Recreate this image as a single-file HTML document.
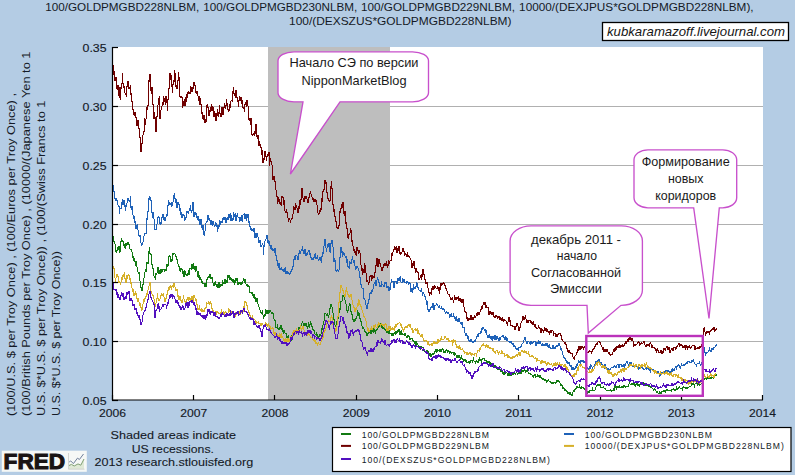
<!DOCTYPE html>
<html><head><meta charset="utf-8"><style>
html,body{margin:0;padding:0;}
body{width:795px;height:475px;overflow:hidden;background:#b4cce4;position:relative;}
svg{position:absolute;left:0;top:0;}
text{font-family:"Liberation Sans",sans-serif;fill:#111;}
.ax{font-size:11.5px;fill:#141a26;stroke:#141a26;stroke-width:0.15px;}
.ti{font-size:11px;fill:#141a26;}
.co{font-size:13px;fill:#1a1a1a;}
.wm{font-size:13px;font-style:italic;fill:#151515;}
.yl{font-size:10.2px;fill:#141a26;}
.lg{font-size:8.6px;fill:#141a26;}
.ft{font-size:11.5px;fill:#141a26;stroke:#141a26;stroke-width:0.1px;}
.fred{font-size:22.5px;font-weight:bold;fill:#1a1414;stroke:#1a1414;stroke-width:1.1px;}
</style></head><body>
<svg width="795" height="475" viewBox="0 0 795 475">
<rect x="112" y="47" width="651" height="353" fill="#fff"/>
<line x1="118" y1="341.5" x2="763" y2="341.5" stroke="#b0b0b0" stroke-width="1"/>
<line x1="118" y1="282.5" x2="763" y2="282.5" stroke="#b0b0b0" stroke-width="1"/>
<line x1="118" y1="224.5" x2="763" y2="224.5" stroke="#b0b0b0" stroke-width="1"/>
<line x1="118" y1="165.5" x2="763" y2="165.5" stroke="#b0b0b0" stroke-width="1"/>
<line x1="118" y1="106.5" x2="763" y2="106.5" stroke="#b0b0b0" stroke-width="1"/>
<rect x="268" y="47" width="122" height="353" fill="#bebebe"/>
<polyline fill="none" stroke="#127a12" stroke-width="1.05" shape-rendering="crispEdges" stroke-linejoin="miter" points="113.03,235.6 113.53,240.1 114.03,241.6 114.53,243.8 115.03,244.2 115.53,247.4 116.03,252.4 116.53,250.7 117.03,250.9 117.53,248.4 118.03,247.4 118.53,248.6 119.03,246.3 119.53,252.8 120.03,251.7 120.53,248.9 121.03,241.2 121.53,239.0 122.03,240.0 122.53,240.5 123.03,241.7 123.53,242.6 124.03,245.5 124.53,244.9 125.03,248.3 125.53,247.7 126.03,243.5 126.53,246.4 127.03,242.7 127.53,244.4 128.03,242.0 128.53,242.5 129.03,244.7 129.53,246.5 130.03,249.2 130.53,249.7 131.03,249.1 131.53,249.4 132.03,252.0 132.53,257.8 133.03,256.3 133.53,259.2 134.03,260.9 134.53,258.1 135.03,261.5 135.53,265.8 136.03,261.2 136.53,264.9 137.03,267.3 137.53,267.8 138.03,272.1 138.53,273.5 139.03,272.7 139.53,278.6 140.03,281.2 140.53,283.9 141.03,287.8 141.53,289.4 142.03,290.5 142.53,285.0 143.03,285.0 143.53,280.7 144.03,278.1 144.53,274.0 145.03,271.8 145.53,270.3 146.03,272.0 146.53,264.2 147.03,262.2 147.53,263.3 148.03,263.4 148.53,259.3 149.03,250.8 149.53,246.6 150.03,253.8 150.53,254.1 151.03,254.6 151.53,260.6 152.03,264.6 152.53,265.9 153.03,268.7 153.53,271.9 154.03,276.2 154.53,276.7 155.03,278.2 155.53,279.5 156.03,273.0 156.53,275.1 157.03,273.0 157.53,270.1 158.03,266.6 158.53,269.7 159.03,274.4 159.53,271.3 160.03,272.5 160.53,274.2 161.03,269.3 161.53,273.2 162.03,271.6 162.53,269.5 163.03,269.6 163.53,269.9 164.03,269.5 164.53,271.8 165.03,269.2 165.53,269.5 166.03,270.9 166.53,268.0 167.03,264.4 167.53,266.2 168.03,265.9 168.53,260.4 169.03,255.7 169.53,255.8 170.03,256.7 170.53,257.5 171.03,262.0 171.53,258.7 172.03,261.1 172.53,254.7 173.03,252.9 173.53,254.0 174.03,253.7 174.53,253.6 175.03,254.1 175.53,255.1 176.03,256.7 176.53,259.2 177.03,259.4 177.53,261.5 178.03,263.8 178.53,264.2 179.03,266.7 179.53,267.6 180.03,271.4 180.53,269.6 181.03,268.3 181.53,268.5 182.03,269.6 182.53,272.1 183.03,270.8 183.53,272.8 184.03,276.8 184.53,269.9 185.03,271.6 185.53,274.4 186.03,275.3 186.53,275.1 187.03,273.8 187.53,274.8 188.03,273.3 188.53,270.5 189.03,274.8 189.53,270.7 190.03,267.8 190.53,268.5 191.03,268.6 191.53,269.1 192.03,263.8 192.53,266.4 193.03,269.3 193.53,264.9 194.03,266.1 194.53,268.9 195.03,269.7 195.53,271.5 196.03,266.3 196.53,269.3 197.03,271.1 197.53,274.5 198.03,277.1 198.53,271.2 199.03,278.0 199.53,275.4 200.03,279.5 200.53,276.6 201.03,279.5 201.53,282.4 202.03,280.9 202.53,281.8 203.03,283.6 203.53,283.3 204.03,283.4 204.53,286.9 205.03,286.9 205.53,282.9 206.03,286.5 206.53,278.8 207.03,280.0 207.53,277.5 208.03,277.2 208.53,277.6 209.03,276.3 209.53,277.7 210.03,274.5 210.53,274.5 211.03,279.1 211.53,277.6 212.03,277.7 212.53,277.4 213.03,283.0 213.53,283.7 214.03,285.6 214.53,281.8 215.03,283.1 215.53,281.5 216.03,284.9 216.53,287.4 217.03,283.6 217.53,287.6 218.03,287.6 218.53,285.8 219.03,282.4 219.53,288.1 220.03,286.8 220.53,284.8 221.03,285.3 221.53,284.7 222.03,285.7 222.53,280.5 223.03,282.6 223.53,283.7 224.03,283.9 224.53,280.9 225.03,279.3 225.53,282.2 226.03,281.1 226.53,280.7 227.03,282.7 227.53,279.7 228.03,275.1 228.53,277.5 229.03,274.9 229.53,279.4 230.03,279.3 230.53,277.6 231.03,278.4 231.53,280.1 232.03,279.0 232.53,281.4 233.03,279.5 233.53,281.5 234.03,283.0 234.53,283.7 235.03,279.9 235.53,282.5 236.03,278.5 236.53,279.7 237.03,278.9 237.53,284.8 238.03,282.3 238.53,284.0 239.03,283.5 239.53,283.3 240.03,281.8 240.53,282.6 241.03,285.2 241.53,282.3 242.03,282.5 242.53,283.3 243.03,281.1 243.53,278.6 244.03,279.2 244.53,282.5 245.03,278.8 245.53,280.6 246.03,284.4 246.53,285.3 247.03,284.6 247.53,286.6 248.03,287.2 248.53,286.1 249.03,286.5 249.53,289.2 250.03,293.2 250.53,292.3 251.03,292.3 251.53,293.3 252.03,292.6 252.53,295.5 253.03,294.8 253.53,297.8 254.03,294.3 254.53,298.7 255.03,298.5 255.53,296.8 256.03,301.4 256.53,301.2 257.03,298.5 257.53,300.8 258.03,304.1 258.53,304.4 259.03,307.3 259.53,308.7 260.03,309.8 260.53,310.2 261.03,312.7 261.53,312.9 262.03,313.4 262.53,310.5 263.03,315.2 263.53,317.5 264.03,316.4 264.53,314.3 265.03,316.3 265.53,309.9 266.03,310.8 266.53,314.2 267.03,309.7 267.53,311.3 268.03,313.5 268.53,310.8 269.03,311.4 269.53,312.3 270.03,310.0 270.53,311.0 271.03,312.1 271.53,313.4 272.03,312.6 272.53,313.4 273.03,313.6 273.53,315.8 274.03,319.3 274.53,320.0 275.03,320.0 275.53,321.2 276.03,327.6 276.53,327.6 277.03,327.6 277.53,324.0 278.03,328.5 278.53,328.9 279.03,330.2 279.53,328.3 280.03,326.9 280.53,327.7 281.03,325.2 281.53,329.2 282.03,329.6 282.53,328.9 283.03,331.9 283.53,333.7 284.03,330.4 284.53,331.2 285.03,333.2 285.53,333.9 286.03,333.9 286.53,333.7 287.03,338.1 287.53,338.1 288.03,335.9 288.53,335.7 289.03,340.1 289.53,340.5 290.03,342.0 290.53,341.4 291.03,339.7 291.53,340.0 292.03,335.2 292.53,334.3 293.03,333.5 293.53,333.1 294.03,331.3 294.53,331.5 295.03,332.0 295.53,331.8 296.03,331.8 296.53,331.0 297.03,329.8 297.53,330.8 298.03,329.8 298.53,328.1 299.03,327.8 299.53,328.1 300.03,327.1 300.53,326.5 301.03,325.3 301.53,324.6 302.03,323.2 302.53,320.8 303.03,323.3 303.53,325.0 304.03,324.8 304.53,324.2 305.03,325.4 305.53,324.4 306.03,323.5 306.53,326.6 307.03,326.5 307.53,329.2 308.03,326.5 308.53,323.3 309.03,324.3 309.53,327.6 310.03,325.0 310.53,322.6 311.03,323.6 311.53,326.0 312.03,326.8 312.53,327.0 313.03,329.7 313.53,330.0 314.03,329.8 314.53,331.4 315.03,333.9 315.53,334.3 316.03,335.3 316.53,333.5 317.03,334.7 317.53,336.5 318.03,335.9 318.53,337.9 319.03,336.8 319.53,336.2 320.03,333.8 320.53,336.1 321.03,333.7 321.53,330.0 322.03,328.5 322.53,330.4 323.03,324.8 323.53,323.3 324.03,321.2 324.53,317.4 325.03,312.9 325.53,313.9 326.03,314.0 326.53,314.8 327.03,314.0 327.53,313.9 328.03,316.2 328.53,317.1 329.03,314.9 329.53,311.6 330.03,308.1 330.53,306.4 331.03,303.7 331.53,305.1 332.03,307.4 332.53,307.8 333.03,313.3 333.53,315.6 334.03,319.8 334.53,323.4 335.03,325.3 335.53,326.0 336.03,325.2 336.53,321.4 337.03,323.7 337.53,320.7 338.03,319.3 338.53,314.5 339.03,313.0 339.53,308.6 340.03,309.9 340.53,308.3 341.03,301.5 341.53,301.1 342.03,301.0 342.53,296.9 343.03,295.5 343.53,296.1 344.03,297.1 344.53,297.0 345.03,300.2 345.53,302.0 346.03,304.3 346.53,307.0 347.03,310.8 347.53,313.0 348.03,310.3 348.53,308.7 349.03,305.9 349.53,303.7 350.03,304.6 350.53,308.0 351.03,311.9 351.53,311.9 352.03,314.5 352.53,317.8 353.03,319.4 353.53,320.8 354.03,322.1 354.53,320.2 355.03,321.1 355.53,320.0 356.03,318.3 356.53,316.4 357.03,315.9 357.53,311.2 358.03,312.2 358.53,314.8 359.03,313.6 359.53,316.8 360.03,319.0 360.53,318.8 361.03,321.8 361.53,323.5 362.03,326.1 362.53,328.0 363.03,328.7 363.53,328.0 364.03,329.2 364.53,329.9 365.03,331.5 365.53,332.6 366.03,332.7 366.53,333.1 367.03,335.7 367.53,334.6 368.03,333.1 368.53,333.3 369.03,332.0 369.53,332.3 370.03,332.7 370.53,331.3 371.03,334.3 371.53,331.2 372.03,332.2 372.53,331.1 373.03,332.2 373.53,327.8 374.03,329.0 374.53,330.6 375.03,331.4 375.53,333.4 376.03,330.5 376.53,330.7 377.03,329.5 377.53,329.0 378.03,327.8 378.53,326.3 379.03,326.7 379.53,324.3 380.03,326.7 380.53,323.9 381.03,324.8 381.53,327.9 382.03,325.9 382.53,326.4 383.03,328.6 383.53,328.0 384.03,327.3 384.53,328.9 385.03,329.9 385.53,330.6 386.03,329.0 386.53,332.3 387.03,333.1 387.53,331.4 388.03,331.8 388.53,331.4 389.03,334.1 389.53,332.3 390.03,334.1 390.53,333.4 391.03,333.4 391.53,335.2 392.03,336.0 392.53,334.2 393.03,332.7 393.53,334.1 394.03,332.9 394.53,332.9 395.03,334.3 395.53,333.7 396.03,331.2 396.53,334.1 397.03,331.4 397.53,331.9 398.03,330.4 398.53,331.2 399.03,329.4 399.53,333.9 400.03,334.5 400.53,331.6 401.03,330.8 401.53,330.8 402.03,334.7 402.53,333.7 403.03,334.2 403.53,334.3 404.03,334.8 404.53,333.9 405.03,335.5 405.53,334.2 406.03,335.9 406.53,337.0 407.03,337.3 407.53,336.5 408.03,335.5 408.53,336.6 409.03,336.0 409.53,338.6 410.03,339.7 410.53,338.9 411.03,338.5 411.53,338.4 412.03,338.4 412.53,339.4 413.03,340.6 413.53,341.4 414.03,341.9 414.53,344.1 415.03,341.4 415.53,342.0 416.03,345.8 416.53,341.5 417.03,342.8 417.53,344.4 418.03,345.2 418.53,346.2 419.03,346.2 419.53,347.1 420.03,347.2 420.53,348.3 421.03,345.8 421.53,346.7 422.03,348.1 422.53,347.5 423.03,347.7 423.53,349.8 424.03,349.1 424.53,350.7 425.03,351.4 425.53,351.3 426.03,351.8 426.53,351.4 427.03,350.2 427.53,351.7 428.03,352.9 428.53,352.3 429.03,352.9 429.53,354.2 430.03,353.0 430.53,354.6 431.03,356.5 431.53,354.2 432.03,354.1 432.53,353.5 433.03,355.0 433.53,353.7 434.03,353.8 434.53,351.8 435.03,351.9 435.53,351.6 436.03,349.3 436.53,352.2 437.03,351.9 437.53,348.8 438.03,351.0 438.53,350.5 439.03,351.0 439.53,351.0 440.03,348.9 440.53,349.9 441.03,352.1 441.53,350.2 442.03,349.3 442.53,348.7 443.03,348.8 443.53,350.5 444.03,352.4 444.53,351.4 445.03,351.0 445.53,353.1 446.03,350.4 446.53,349.8 447.03,351.4 447.53,352.0 448.03,350.6 448.53,350.5 449.03,352.3 449.53,352.8 450.03,351.1 450.53,352.0 451.03,351.8 451.53,352.9 452.03,352.5 452.53,352.5 453.03,352.5 453.53,354.3 454.03,355.3 454.53,353.9 455.03,355.2 455.53,354.0 456.03,354.9 456.53,356.1 457.03,357.4 457.53,355.9 458.03,356.2 458.53,356.8 459.03,355.4 459.53,357.0 460.03,356.8 460.53,358.2 461.03,357.1 461.53,356.3 462.03,358.5 462.53,359.4 463.03,359.1 463.53,360.7 464.03,360.1 464.53,360.0 465.03,361.3 465.53,359.7 466.03,360.6 466.53,361.7 467.03,363.1 467.53,362.6 468.03,362.6 468.53,361.4 469.03,361.8 469.53,363.0 470.03,360.6 470.53,363.0 471.03,360.4 471.53,360.6 472.03,360.8 472.53,361.7 473.03,359.6 473.53,358.3 474.03,360.8 474.53,361.4 475.03,361.4 475.53,363.4 476.03,361.4 476.53,361.0 477.03,361.6 477.53,361.2 478.03,362.4 478.53,359.7 479.03,360.0 479.53,357.0 480.03,360.5 480.53,359.7 481.03,360.6 481.53,361.8 482.03,359.5 482.53,358.5 483.03,358.2 483.53,358.1 484.03,358.6 484.53,360.3 485.03,360.3 485.53,360.5 486.03,360.6 486.53,362.0 487.03,362.1 487.53,361.8 488.03,362.8 488.53,362.4 489.03,361.6 489.53,364.3 490.03,364.2 490.53,363.0 491.03,365.0 491.53,365.0 492.03,363.4 492.53,366.4 493.03,366.0 493.53,366.8 494.03,366.5 494.53,366.4 495.03,365.3 495.53,367.7 496.03,367.6 496.53,367.5 497.03,368.4 497.53,368.6 498.03,369.4 498.53,368.9 499.03,369.4 499.53,367.8 500.03,369.3 500.53,370.9 501.03,372.1 501.53,371.1 502.03,371.3 502.53,373.2 503.03,372.1 503.53,373.1 504.03,374.4 504.53,373.1 505.03,373.9 505.53,372.3 506.03,372.8 506.53,372.7 507.03,372.9 507.53,374.1 508.03,375.8 508.53,373.6 509.03,373.6 509.53,374.8 510.03,373.9 510.53,375.0 511.03,375.3 511.53,374.6 512.03,375.2 512.53,373.5 513.03,375.2 513.53,373.1 514.03,373.2 514.53,373.1 515.03,372.9 515.53,373.7 516.03,373.0 516.53,372.4 517.03,373.2 517.53,374.2 518.03,373.0 518.53,373.1 519.03,373.9 519.53,372.9 520.03,371.0 520.53,373.8 521.03,373.8 521.53,369.8 522.03,370.5 522.53,371.0 523.03,371.7 523.53,371.5 524.03,370.6 524.53,369.7 525.03,370.6 525.53,371.9 526.03,370.5 526.53,370.5 527.03,371.7 527.53,370.5 528.03,372.0 528.53,372.5 529.03,373.6 529.53,373.1 530.03,373.1 530.53,373.8 531.03,374.5 531.53,374.2 532.03,374.9 532.53,375.8 533.03,376.5 533.53,377.2 534.03,375.4 534.53,375.4 535.03,373.8 535.53,377.4 536.03,376.0 536.53,376.4 537.03,377.1 537.53,375.7 538.03,376.9 538.53,376.8 539.03,375.2 539.53,376.7 540.03,377.8 540.53,375.5 541.03,377.7 541.53,377.8 542.03,378.4 542.53,378.7 543.03,379.8 543.53,379.0 544.03,380.0 544.53,379.4 545.03,380.5 545.53,379.7 546.03,380.4 546.53,382.2 547.03,381.4 547.53,380.8 548.03,379.9 548.53,380.0 549.03,380.8 549.53,381.7 550.03,381.7 550.53,382.1 551.03,382.0 551.53,383.3 552.03,382.5 552.53,382.4 553.03,383.4 553.53,383.0 554.03,382.6 554.53,382.3 555.03,382.5 555.53,383.2 556.03,382.8 556.53,381.2 557.03,381.9 557.53,381.6 558.03,380.3 558.53,381.3 559.03,381.4 559.53,381.9 560.03,383.4 560.53,384.7 561.03,383.9 561.53,385.1 562.03,384.9 562.53,387.8 563.03,386.8 563.53,388.4 564.03,387.9 564.53,389.4 565.03,391.2 565.53,388.7 566.03,390.3 566.53,391.5 567.03,391.5 567.53,391.4 568.03,393.6 568.53,392.9 569.03,391.8 569.53,393.6 570.03,392.5 570.53,394.4 571.03,393.9 571.53,394.6 572.03,395.7 572.53,394.4 573.03,392.2 573.53,390.8 574.03,391.7 574.53,390.8 575.03,388.7 575.53,389.2 576.03,388.8 576.53,388.5 577.03,386.1 577.53,386.8 578.03,387.5 578.53,387.6 579.03,387.8 579.53,385.5 580.03,387.0 580.53,387.5 581.03,389.2 581.53,386.9 582.03,386.9 582.53,387.2 583.03,388.3 583.53,387.9 584.03,389.4 584.53,388.7 585.03,389.7 585.53,389.9 586.03,390.9 586.53,391.1 587.03,391.0 587.53,392.8 588.03,392.3 588.53,391.4 589.03,391.6 589.53,392.0 590.03,390.5 590.53,390.6 591.03,390.9 591.53,390.7 592.03,389.9 592.53,388.4 593.03,390.8 593.53,390.9 594.03,391.0 594.53,390.6 595.03,389.9 595.53,388.5 596.03,387.0 596.53,386.2 597.03,385.7 597.53,385.0 598.03,383.9 598.53,384.9 599.03,383.7 599.53,384.9 600.03,384.5 600.53,386.0 601.03,387.6 601.53,387.6 602.03,387.0 602.53,387.7 603.03,388.1 603.53,387.0 604.03,387.8 604.53,388.7 605.03,388.6 605.53,389.2 606.03,390.0 606.53,390.4 607.03,390.7 607.53,390.8 608.03,390.4 608.53,390.7 609.03,390.8 609.53,390.9 610.03,391.0 610.53,389.9 611.03,390.7 611.53,391.0 612.03,390.4 612.53,390.4 613.03,390.4 613.53,389.5 614.03,390.6 614.53,387.0 615.03,387.8 615.53,386.6 616.03,388.2 616.53,389.6 617.03,385.9 617.53,387.0 618.03,387.6 618.53,387.1 619.03,387.6 619.53,385.6 620.03,387.5 620.53,387.6 621.03,387.3 621.53,386.8 622.03,387.6 622.53,386.9 623.03,387.3 623.53,386.9 624.03,385.5 624.53,386.8 625.03,387.3 625.53,387.6 626.03,386.2 626.53,386.3 627.03,386.7 627.53,386.2 628.03,386.4 628.53,386.5 629.03,383.7 629.53,381.8 630.03,383.8 630.53,384.8 631.03,384.6 631.53,384.6 632.03,383.6 632.53,383.4 633.03,384.7 633.53,383.7 634.03,382.9 634.53,383.5 635.03,386.3 635.53,386.4 636.03,384.4 636.53,384.0 637.03,384.7 637.53,384.0 638.03,385.5 638.53,384.7 639.03,383.8 639.53,385.5 640.03,384.3 640.53,384.7 641.03,384.6 641.53,384.4 642.03,384.8 642.53,384.1 643.03,383.2 643.53,382.8 644.03,383.6 644.53,384.2 645.03,385.0 645.53,385.3 646.03,385.9 646.53,385.8 647.03,385.1 647.53,385.2 648.03,384.2 648.53,385.6 649.03,386.5 649.53,386.8 650.03,386.5 650.53,386.5 651.03,387.7 651.53,387.5 652.03,388.3 652.53,388.7 653.03,388.8 653.53,389.8 654.03,388.8 654.53,389.0 655.03,388.9 655.53,389.1 656.03,391.2 656.53,392.1 657.03,391.5 657.53,392.2 658.03,393.1 658.53,393.2 659.03,393.4 659.53,391.8 660.03,391.9 660.53,392.6 661.03,393.4 661.53,392.4 662.03,391.3 662.53,391.3 663.03,390.8 663.53,390.4 664.03,391.8 664.53,390.4 665.03,390.3 665.53,391.7 666.03,391.0 666.53,390.3 667.03,389.5 667.53,390.1 668.03,391.0 668.53,390.5 669.03,390.9 669.53,390.3 670.03,390.6 670.53,390.2 671.03,390.7 671.53,391.4 672.03,389.3 672.53,389.7 673.03,389.8 673.53,389.0 674.03,388.9 674.53,389.5 675.03,390.5 675.53,389.5 676.03,389.0 676.53,387.5 677.03,389.7 677.53,388.8 678.03,388.6 678.53,387.7 679.03,388.1 679.53,387.3 680.03,387.9 680.53,388.2 681.03,388.1 681.53,388.4 682.03,387.7 682.53,389.3 683.03,388.2 683.53,387.1 684.03,388.1 684.53,387.9 685.03,387.7 685.53,388.1 686.03,388.5 686.53,387.3 687.03,387.6 687.53,388.6 688.03,388.1 688.53,387.1 689.03,387.0 689.53,386.5 690.03,386.3 690.53,386.6 691.03,385.9 691.53,383.8 692.03,385.0 692.53,384.3 693.03,385.2 693.53,384.2 694.03,384.6 694.53,386.3 695.03,384.1 695.53,383.6 696.03,383.3 696.53,382.6 697.03,383.0 697.53,384.9 698.03,384.6 698.53,383.7 699.03,383.7 699.53,385.2 700.03,384.3 700.53,384.3 701.03,384.1 701.53,383.9 702.03,383.5 702.53,382.3 703.03,383.0 703.53,383.9 704.03,379.6 704.53,379.7 705.03,378.4 705.53,378.9 706.03,379.0 706.53,379.0 707.03,378.7 707.53,378.0 708.03,378.2 708.53,377.2 709.03,379.1 709.53,378.7 710.03,377.0 710.53,378.6 711.03,378.3 711.53,375.7 712.03,378.2 712.53,377.6 713.03,378.3 713.53,375.5 714.03,376.2 714.53,376.1 715.03,375.6 715.53,375.3 716.03,375.9 716.53,373.6"/>
<polyline fill="none" stroke="#1f62b8" stroke-width="1.05" shape-rendering="crispEdges" stroke-linejoin="miter" points="113.03,184.9 113.53,186.7 114.03,191.7 114.53,194.6 115.03,198.5 115.53,200.1 116.03,200.7 116.53,199.3 117.03,200.0 117.53,204.2 118.03,205.0 118.53,205.6 119.03,206.6 119.53,213.7 120.03,208.5 120.53,208.6 121.03,208.3 121.53,203.7 122.03,204.8 122.53,199.0 123.03,204.7 123.53,204.4 124.03,200.4 124.53,206.5 125.03,204.7 125.53,211.0 126.03,206.1 126.53,204.1 127.03,202.9 127.53,199.0 128.03,199.3 128.53,197.9 129.03,201.3 129.53,200.6 130.03,202.2 130.53,196.5 131.03,207.4 131.53,208.4 132.03,205.6 132.53,211.6 133.03,215.2 133.53,219.0 134.03,215.8 134.53,223.0 135.03,221.4 135.53,228.5 136.03,224.9 136.53,227.1 137.03,225.8 137.53,224.5 138.03,230.4 138.53,232.3 139.03,235.8 139.53,236.3 140.03,235.4 140.53,237.0 141.03,243.4 141.53,245.4 142.03,243.0 142.53,243.9 143.03,241.6 143.53,237.8 144.03,236.0 144.53,233.5 145.03,233.2 145.53,233.6 146.03,233.4 146.53,227.0 147.03,218.2 147.53,218.9 148.03,211.1 148.53,209.0 149.03,197.9 149.53,197.2 150.03,199.9 150.53,197.5 151.03,200.6 151.53,207.8 152.03,212.9 152.53,217.7 153.03,213.7 153.53,213.0 154.03,219.2 154.53,226.0 155.03,229.6 155.53,229.5 156.03,230.0 156.53,227.4 157.03,223.8 157.53,218.6 158.03,217.6 158.53,217.1 159.03,217.6 159.53,217.4 160.03,224.3 160.53,224.4 161.03,222.2 161.53,222.9 162.03,217.5 162.53,216.0 163.03,214.0 163.53,216.7 164.03,220.3 164.53,216.9 165.03,221.0 165.53,219.7 166.03,216.7 166.53,214.8 167.03,215.3 167.53,208.4 168.03,205.2 168.53,200.0 169.03,202.6 169.53,205.0 170.03,202.8 170.53,204.1 171.03,204.2 171.53,206.7 172.03,201.8 172.53,206.0 173.03,201.9 173.53,197.3 174.03,195.5 174.53,193.2 175.03,198.9 175.53,202.6 176.03,198.6 176.53,205.2 177.03,207.5 177.53,205.2 178.03,202.5 178.53,203.8 179.03,204.4 179.53,209.2 180.03,210.5 180.53,208.5 181.03,214.7 181.53,212.0 182.03,218.2 182.53,214.7 183.03,215.3 183.53,214.9 184.03,215.4 184.53,220.0 185.03,219.7 185.53,218.8 186.03,217.6 186.53,212.0 187.03,213.0 187.53,212.5 188.03,210.8 188.53,213.7 189.03,210.7 189.53,209.8 190.03,208.3 190.53,205.0 191.03,210.8 191.53,213.4 192.03,210.6 192.53,206.6 193.03,202.4 193.53,211.8 194.03,216.7 194.53,213.1 195.03,212.2 195.53,214.0 196.03,215.3 196.53,213.0 197.03,217.9 197.53,219.8 198.03,216.0 198.53,219.7 199.03,219.1 199.53,222.4 200.03,225.1 200.53,222.1 201.03,219.4 201.53,227.5 202.03,227.2 202.53,230.2 203.03,224.6 203.53,230.1 204.03,234.4 204.53,235.8 205.03,230.9 205.53,227.3 206.03,222.5 206.53,221.4 207.03,221.8 207.53,219.6 208.03,215.5 208.53,219.9 209.03,217.8 209.53,220.6 210.03,220.7 210.53,224.5 211.03,224.4 211.53,220.5 212.03,221.9 212.53,225.8 213.03,221.0 213.53,222.6 214.03,224.9 214.53,226.7 215.03,226.2 215.53,222.7 216.03,223.1 216.53,226.4 217.03,227.1 217.53,232.2 218.03,224.7 218.53,227.8 219.03,227.2 219.53,221.0 220.03,221.6 220.53,223.9 221.03,222.6 221.53,222.1 222.03,222.5 222.53,218.4 223.03,219.8 223.53,217.3 224.03,217.1 224.53,219.7 225.03,217.5 225.53,219.2 226.03,222.8 226.53,219.4 227.03,218.0 227.53,219.6 228.03,216.9 228.53,219.8 229.03,214.1 229.53,217.7 230.03,215.6 230.53,214.5 231.03,220.7 231.53,215.4 232.03,220.9 232.53,218.6 233.03,219.3 233.53,212.4 234.03,215.8 234.53,217.2 235.03,214.0 235.53,213.7 236.03,220.6 236.53,216.6 237.03,214.7 237.53,214.2 238.03,217.2 238.53,217.9 239.03,218.1 239.53,222.1 240.03,217.5 240.53,218.5 241.03,221.0 241.53,215.2 242.03,219.1 242.53,221.9 243.03,214.8 243.53,214.3 244.03,214.6 244.53,212.9 245.03,218.6 245.53,213.9 246.03,218.4 246.53,221.3 247.03,213.7 247.53,215.9 248.03,214.3 248.53,222.2 249.03,221.7 249.53,224.2 250.03,226.4 250.53,229.1 251.03,228.5 251.53,230.1 252.03,229.4 252.53,231.2 253.03,229.0 253.53,231.8 254.03,228.1 254.53,231.1 255.03,237.8 255.53,235.3 256.03,232.6 256.53,236.3 257.03,235.1 257.53,234.1 258.03,236.8 258.53,241.5 259.03,242.4 259.53,242.2 260.03,240.4 260.53,240.7 261.03,246.9 261.53,246.5 262.03,244.6 262.53,242.7 263.03,245.0 263.53,254.8 264.03,246.1 264.53,243.6 265.03,240.9 265.53,239.6 266.03,238.7 266.53,235.7 267.03,235.4 267.53,243.0 268.03,240.2 268.53,244.4 269.03,240.8 269.53,243.8 270.03,246.2 270.53,249.0 271.03,245.4 271.53,249.0 272.03,249.9 272.53,248.2 273.03,251.1 273.53,249.5 274.03,250.2 274.53,252.9 275.03,248.5 275.53,254.7 276.03,255.7 276.53,256.6 277.03,260.5 277.53,264.6 278.03,263.8 278.53,267.8 279.03,264.5 279.53,263.9 280.03,269.7 280.53,268.8 281.03,270.0 281.53,267.0 282.03,269.9 282.53,269.7 283.03,270.7 283.53,269.9 284.03,272.3 284.53,269.4 285.03,268.5 285.53,267.9 286.03,273.6 286.53,271.7 287.03,271.4 287.53,272.3 288.03,274.0 288.53,273.0 289.03,274.3 289.53,273.7 290.03,273.5 290.53,272.0 291.03,272.2 291.53,270.1 292.03,269.6 292.53,268.4 293.03,266.6 293.53,259.6 294.03,259.9 294.53,258.2 295.03,260.4 295.53,255.2 296.03,255.1 296.53,255.7 297.03,256.3 297.53,259.6 298.03,257.7 298.53,259.9 299.03,253.3 299.53,249.6 300.03,253.7 300.53,251.7 301.03,251.2 301.53,249.9 302.03,250.0 302.53,246.3 303.03,251.3 303.53,249.9 304.03,253.6 304.53,253.2 305.03,248.9 305.53,249.9 306.03,255.5 306.53,254.3 307.03,253.5 307.53,253.9 308.03,251.9 308.53,250.7 309.03,251.2 309.53,250.9 310.03,254.9 310.53,253.3 311.03,257.7 311.53,259.2 312.03,260.1 312.53,259.7 313.03,258.5 313.53,259.0 314.03,257.4 314.53,255.0 315.03,255.1 315.53,253.1 316.03,258.8 316.53,258.5 317.03,257.4 317.53,255.0 318.03,259.3 318.53,259.9 319.03,259.0 319.53,259.1 320.03,257.3 320.53,261.4 321.03,259.1 321.53,262.5 322.03,256.0 322.53,252.8 323.03,253.6 323.53,248.9 324.03,246.1 324.53,242.3 325.03,239.0 325.53,245.9 326.03,248.1 326.53,252.1 327.03,247.9 327.53,246.8 328.03,243.8 328.53,246.5 329.03,243.0 329.53,248.3 330.03,252.0 330.53,252.1 331.03,242.9 331.53,242.2 332.03,240.0 332.53,243.8 333.03,247.0 333.53,256.5 334.03,261.5 334.53,259.3 335.03,260.1 335.53,262.7 336.03,270.8 336.53,271.5 337.03,270.5 337.53,270.0 338.03,271.0 338.53,271.4 339.03,270.1 339.53,262.8 340.03,257.6 340.53,254.0 341.03,247.5 341.53,252.8 342.03,251.5 342.53,257.3 343.03,253.1 343.53,252.5 344.03,255.3 344.53,253.2 345.03,256.4 345.53,256.9 346.03,255.7 346.53,260.4 347.03,263.0 347.53,259.1 348.03,267.1 348.53,267.2 349.03,268.2 349.53,262.0 350.03,262.3 350.53,262.3 351.03,264.4 351.53,259.3 352.03,258.9 352.53,256.0 353.03,260.2 353.53,263.0 354.03,260.3 354.53,262.8 355.03,266.1 355.53,269.6 356.03,269.1 356.53,267.7 357.03,266.4 357.53,266.9 358.03,268.0 358.53,270.2 359.03,270.8 359.53,276.9 360.03,277.8 360.53,277.7 361.03,284.7 361.53,286.9 362.03,287.8 362.53,288.6 363.03,288.8 363.53,292.3 364.03,298.3 364.53,298.6 365.03,299.9 365.53,303.4 366.03,305.1 366.53,307.1 367.03,308.5 367.53,308.3 368.03,303.2 368.53,303.7 369.03,299.2 369.53,297.7 370.03,293.5 370.53,292.8 371.03,293.3 371.53,291.1 372.03,292.0 372.53,291.2 373.03,288.7 373.53,285.9 374.03,284.0 374.53,283.0 375.03,282.4 375.53,281.5 376.03,285.9 376.53,281.3 377.03,280.1 377.53,278.3 378.03,279.3 378.53,281.3 379.03,283.4 379.53,282.1 380.03,287.1 380.53,284.7 381.03,287.1 381.53,281.1 382.03,283.9 382.53,284.7 383.03,284.9 383.53,286.0 384.03,285.9 384.53,286.0 385.03,282.5 385.53,284.2 386.03,281.9 386.53,287.0 387.03,287.7 387.53,287.1 388.03,286.1 388.53,286.5 389.03,290.9 389.53,290.9 390.03,287.2 390.53,288.3 391.03,282.9 391.53,280.6 392.03,282.2 392.53,281.3 393.03,281.4 393.53,282.5 394.03,287.7 394.53,281.7 395.03,281.5 395.53,281.6 396.03,280.8 396.53,282.2 397.03,283.8 397.53,278.2 398.03,279.4 398.53,278.9 399.03,280.6 399.53,278.0 400.03,277.6 400.53,276.8 401.03,282.0 401.53,282.7 402.03,282.8 402.53,278.5 403.03,281.3 403.53,280.9 404.03,279.5 404.53,279.9 405.03,282.7 405.53,282.9 406.03,282.1 406.53,283.0 407.03,281.2 407.53,282.2 408.03,282.5 408.53,283.6 409.03,282.8 409.53,282.7 410.03,283.7 410.53,284.8 411.03,291.7 411.53,289.4 412.03,288.5 412.53,291.3 413.03,290.1 413.53,284.3 414.03,286.9 414.53,287.4 415.03,289.1 415.53,288.2 416.03,286.7 416.53,282.6 417.03,283.0 417.53,286.0 418.03,287.9 418.53,287.4 419.03,290.0 419.53,290.6 420.03,291.0 420.53,291.1 421.03,290.2 421.53,288.3 422.03,292.3 422.53,293.9 423.03,291.8 423.53,293.9 424.03,293.9 424.53,295.3 425.03,296.9 425.53,296.6 426.03,300.3 426.53,302.9 427.03,301.5 427.53,307.0 428.03,309.5 428.53,310.4 429.03,311.6 429.53,310.7 430.03,309.6 430.53,308.5 431.03,307.0 431.53,307.3 432.03,306.4 432.53,307.0 433.03,302.7 433.53,308.5 434.03,309.4 434.53,305.7 435.03,305.9 435.53,305.4 436.03,304.8 436.53,304.2 437.03,304.8 437.53,304.4 438.03,306.4 438.53,307.0 439.03,308.2 439.53,306.8 440.03,307.9 440.53,308.1 441.03,309.0 441.53,306.6 442.03,308.4 442.53,309.9 443.03,310.0 443.53,309.0 444.03,309.0 444.53,309.8 445.03,311.8 445.53,313.9 446.03,312.1 446.53,311.4 447.03,313.2 447.53,313.7 448.03,312.5 448.53,312.9 449.03,314.4 449.53,316.2 450.03,314.2 450.53,314.3 451.03,316.5 451.53,314.4 452.03,316.0 452.53,316.6 453.03,316.1 453.53,314.8 454.03,316.6 454.53,317.1 455.03,318.7 455.53,317.8 456.03,321.0 456.53,318.1 457.03,319.5 457.53,320.1 458.03,321.6 458.53,319.6 459.03,320.9 459.53,319.6 460.03,321.8 460.53,324.2 461.03,322.2 461.53,323.5 462.03,322.4 462.53,325.4 463.03,327.7 463.53,327.7 464.03,327.3 464.53,330.5 465.03,333.3 465.53,335.0 466.03,336.2 466.53,334.2 467.03,335.6 467.53,338.9 468.03,336.6 468.53,339.5 469.03,341.4 469.53,340.8 470.03,341.5 470.53,340.3 471.03,339.3 471.53,340.9 472.03,341.5 472.53,342.2 473.03,342.8 473.53,341.5 474.03,341.3 474.53,341.1 475.03,339.7 475.53,341.0 476.03,338.7 476.53,336.9 477.03,335.9 477.53,334.9 478.03,337.0 478.53,335.6 479.03,333.5 479.53,333.5 480.03,333.3 480.53,332.0 481.03,333.0 481.53,329.4 482.03,330.1 482.53,329.0 483.03,327.0 483.53,328.7 484.03,329.2 484.53,330.4 485.03,329.7 485.53,331.5 486.03,330.2 486.53,331.6 487.03,335.3 487.53,337.3 488.03,336.8 488.53,336.2 489.03,338.4 489.53,335.1 490.03,336.4 490.53,338.7 491.03,339.3 491.53,337.3 492.03,335.8 492.53,339.7 493.03,338.8 493.53,337.4 494.03,338.2 494.53,339.5 495.03,335.4 495.53,339.2 496.03,339.5 496.53,336.0 497.03,338.9 497.53,336.3 498.03,339.4 498.53,339.1 499.03,341.3 499.53,337.9 500.03,337.8 500.53,338.9 501.03,336.8 501.53,336.1 502.03,336.1 502.53,336.3 503.03,335.0 503.53,337.1 504.03,337.9 504.53,337.7 505.03,339.9 505.53,338.1 506.03,340.1 506.53,338.8 507.03,340.7 507.53,338.3 508.03,340.9 508.53,341.6 509.03,341.8 509.53,341.9 510.03,342.5 510.53,342.5 511.03,341.0 511.53,342.8 512.03,343.5 512.53,344.0 513.03,343.7 513.53,345.0 514.03,346.6 514.53,346.0 515.03,345.9 515.53,348.2 516.03,348.5 516.53,348.8 517.03,349.4 517.53,348.1 518.03,348.3 518.53,349.4 519.03,347.5 519.53,347.3 520.03,347.6 520.53,347.4 521.03,346.3 521.53,346.5 522.03,344.0 522.53,343.6 523.03,342.8 523.53,341.1 524.03,339.8 524.53,337.7 525.03,337.7 525.53,339.1 526.03,341.3 526.53,343.5 527.03,341.1 527.53,342.6 528.03,341.4 528.53,341.3 529.03,341.9 529.53,343.1 530.03,342.8 530.53,343.9 531.03,341.5 531.53,343.3 532.03,343.7 532.53,342.8 533.03,343.1 533.53,341.9 534.03,341.0 534.53,341.6 535.03,341.5 535.53,345.7 536.03,342.5 536.53,344.4 537.03,343.1 537.53,342.9 538.03,343.4 538.53,341.7 539.03,343.4 539.53,343.2 540.03,341.1 540.53,343.4 541.03,344.0 541.53,344.2 542.03,345.8 542.53,344.0 543.03,344.9 543.53,345.5 544.03,343.9 544.53,346.3 545.03,343.8 545.53,343.7 546.03,346.0 546.53,344.8 547.03,345.9 547.53,344.5 548.03,346.5 548.53,345.7 549.03,347.4 549.53,345.8 550.03,348.0 550.53,347.8 551.03,348.3 551.53,348.4 552.03,348.6 552.53,347.0 553.03,345.2 553.53,347.9 554.03,347.3 554.53,347.7 555.03,348.8 555.53,346.2 556.03,346.6 556.53,346.4 557.03,345.5 557.53,346.5 558.03,345.8 558.53,344.4 559.03,343.5 559.53,345.3 560.03,345.9 560.53,348.6 561.03,350.2 561.53,349.1 562.03,351.0 562.53,353.2 563.03,354.9 563.53,356.4 564.03,357.6 564.53,358.8 565.03,358.4 565.53,359.3 566.03,361.3 566.53,360.9 567.03,362.9 567.53,361.2 568.03,363.6 568.53,363.8 569.03,362.6 569.53,365.7 570.03,366.0 570.53,366.2 571.03,365.6 571.53,366.9 572.03,369.8 572.53,369.0 573.03,367.2 573.53,368.9 574.03,368.4 574.53,368.9 575.03,368.4 575.53,367.0 576.03,365.9 576.53,366.7 577.03,363.7 577.53,365.6 578.03,362.7 578.53,360.8 579.03,361.5 579.53,362.0 580.03,361.5 580.53,362.7 581.03,360.2 581.53,360.4 582.03,362.3 582.53,361.1 583.03,360.1 583.53,362.0 584.03,363.0 584.53,362.6 585.03,361.6 585.53,363.6 586.03,365.6 586.53,367.1 587.03,368.9 587.53,367.8 588.03,367.9 588.53,368.8 589.03,369.5 589.53,367.2 590.03,368.5 590.53,364.5 591.03,366.7 591.53,366.0 592.03,367.3 592.53,368.0 593.03,366.6 593.53,366.6 594.03,366.3 594.53,366.0 595.03,363.9 595.53,362.8 596.03,361.2 596.53,365.0 597.03,362.6 597.53,361.7 598.03,359.8 598.53,361.4 599.03,359.6 599.53,360.6 600.03,361.9 600.53,362.7 601.03,364.7 601.53,363.6 602.03,364.7 602.53,365.3 603.03,365.1 603.53,366.4 604.03,366.7 604.53,368.5 605.03,364.5 605.53,366.5 606.03,366.8 606.53,367.5 607.03,368.7 607.53,369.1 608.03,369.0 608.53,368.8 609.03,370.0 609.53,370.3 610.03,368.6 610.53,369.2 611.03,367.9 611.53,367.4 612.03,368.1 612.53,367.8 613.03,367.6 613.53,366.4 614.03,366.6 614.53,365.7 615.03,366.6 615.53,366.9 616.03,367.8 616.53,367.3 617.03,365.0 617.53,364.7 618.03,364.1 618.53,365.5 619.03,367.5 619.53,366.9 620.03,364.2 620.53,364.7 621.03,364.5 621.53,366.0 622.03,365.6 622.53,365.6 623.03,366.8 623.53,364.6 624.03,364.1 624.53,366.8 625.03,365.7 625.53,364.4 626.03,362.8 626.53,362.7 627.03,361.6 627.53,363.6 628.03,363.8 628.53,364.7 629.03,363.8 629.53,363.0 630.03,362.9 630.53,365.4 631.03,362.4 631.53,364.2 632.03,364.8 632.53,365.9 633.03,365.6 633.53,366.8 634.03,367.2 634.53,366.4 635.03,365.9 635.53,366.1 636.03,365.4 636.53,366.1 637.03,366.4 637.53,367.2 638.03,368.6 638.53,369.0 639.03,367.5 639.53,368.2 640.03,368.0 640.53,368.4 641.03,367.8 641.53,367.9 642.03,367.3 642.53,366.8 643.03,368.5 643.53,369.5 644.03,369.2 644.53,369.2 645.03,369.2 645.53,368.6 646.03,367.2 646.53,369.2 647.03,369.2 647.53,368.5 648.03,367.9 648.53,369.9 649.03,367.5 649.53,370.3 650.03,369.8 650.53,371.4 651.03,369.0 651.53,369.4 652.03,369.3 652.53,370.0 653.03,370.1 653.53,369.8 654.03,371.6 654.53,370.4 655.03,370.7 655.53,371.9 656.03,371.3 656.53,371.5 657.03,372.5 657.53,372.2 658.03,371.6 658.53,372.6 659.03,372.8 659.53,374.6 660.03,372.6 660.53,374.1 661.03,372.9 661.53,372.6 662.03,372.3 662.53,372.4 663.03,372.7 663.53,373.3 664.03,371.1 664.53,372.2 665.03,371.9 665.53,371.5 666.03,369.8 666.53,371.1 667.03,370.5 667.53,370.9 668.03,370.5 668.53,371.4 669.03,372.1 669.53,372.4 670.03,371.3 670.53,372.3 671.03,373.0 671.53,370.8 672.03,372.1 672.53,369.4 673.03,370.2 673.53,370.0 674.03,370.4 674.53,369.2 675.03,368.1 675.53,367.3 676.03,366.6 676.53,368.1 677.03,366.9 677.53,365.6 678.03,366.0 678.53,364.4 679.03,364.8 679.53,365.2 680.03,367.5 680.53,368.0 681.03,366.2 681.53,364.3 682.03,365.5 682.53,365.4 683.03,365.4 683.53,365.4 684.03,364.4 684.53,365.2 685.03,365.0 685.53,364.2 686.03,363.2 686.53,362.8 687.03,363.6 687.53,361.8 688.03,362.2 688.53,361.6 689.03,360.9 689.53,362.7 690.03,362.4 690.53,362.5 691.03,363.2 691.53,360.5 692.03,361.0 692.53,361.0 693.03,361.5 693.53,360.2 694.03,362.2 694.53,362.4 695.03,363.9 695.53,364.2 696.03,363.8 696.53,365.6 697.03,364.0 697.53,363.4 698.03,363.6 698.53,363.2 699.03,364.1 699.53,362.7 700.03,364.3 700.53,365.3 701.03,365.2 701.53,362.8 702.03,363.0 702.53,360.6 703.03,362.3 703.53,361.1 704.03,346.9 704.53,348.8 705.03,353.2 705.53,354.4 706.03,352.2 706.53,353.3 707.03,353.2 707.53,352.1 708.03,351.9 708.53,351.3 709.03,350.6 709.53,348.9 710.03,350.1 710.53,351.6 711.03,351.8 711.53,349.6 712.03,348.4 712.53,348.5 713.03,349.5 713.53,348.8 714.03,347.3 714.53,347.7 715.03,346.7 715.53,346.9 716.03,345.5 716.53,343.6"/>
<polyline fill="none" stroke="#700000" stroke-width="1.05" shape-rendering="crispEdges" stroke-linejoin="miter" points="113.03,65.4 113.53,74.8 114.03,70.9 114.53,75.3 115.03,81.4 115.53,78.4 116.03,77.6 116.53,88.5 117.03,86.8 117.53,89.8 118.03,85.2 118.53,96.1 119.03,87.4 119.53,91.4 120.03,98.3 120.53,98.8 121.03,87.6 121.53,83.7 122.03,83.6 122.53,73.0 123.03,83.5 123.53,87.0 124.03,85.7 124.53,90.3 125.03,93.3 125.53,93.3 126.03,95.3 126.53,96.7 127.03,86.3 127.53,83.7 128.03,80.7 128.53,88.6 129.03,86.8 129.53,89.0 130.03,86.8 130.53,85.0 131.03,94.5 131.53,93.4 132.03,102.2 132.53,104.8 133.03,110.1 133.53,108.8 134.03,114.5 134.53,115.9 135.03,112.5 135.53,116.5 136.03,117.7 136.53,119.9 137.03,126.4 137.53,122.4 138.03,119.9 138.53,121.4 139.03,128.6 139.53,131.9 140.03,137.5 140.53,144.0 141.03,152.4 141.53,149.0 142.03,143.7 142.53,135.3 143.03,135.1 143.53,134.6 144.03,131.7 144.53,117.9 145.03,122.5 145.53,123.5 146.03,118.8 146.53,107.6 147.03,107.3 147.53,108.5 148.03,105.2 148.53,89.5 149.03,80.1 149.53,81.8 150.03,74.5 150.53,89.3 151.03,91.4 151.53,92.4 152.03,87.2 152.53,91.2 153.03,105.2 153.53,106.2 154.03,119.2 154.53,112.2 155.03,117.4 155.53,127.8 156.03,132.0 156.53,126.6 157.03,116.5 157.53,110.6 158.03,104.7 158.53,98.8 159.03,98.0 159.53,115.4 160.03,119.0 160.53,115.5 161.03,109.6 161.53,109.0 162.03,105.7 162.53,102.5 163.03,104.5 163.53,95.9 164.03,101.7 164.53,98.7 165.03,99.2 165.53,104.7 166.03,96.0 166.53,101.1 167.03,102.9 167.53,111.2 168.03,99.3 168.53,88.5 169.03,88.7 169.53,79.7 170.03,72.9 170.53,79.8 171.03,75.1 171.53,79.5 172.03,86.6 172.53,93.0 173.03,84.5 173.53,81.9 174.03,79.9 174.53,70.1 175.03,81.7 175.53,72.6 176.03,86.6 176.53,85.3 177.03,89.3 177.53,86.7 178.03,80.2 178.53,72.5 179.03,77.8 179.53,90.7 180.03,97.1 180.53,97.3 181.03,98.0 181.53,97.8 182.03,96.6 182.53,107.7 183.03,106.0 183.53,103.6 184.03,101.0 184.53,98.6 185.03,105.9 185.53,104.5 186.03,97.3 186.53,102.0 187.03,94.4 187.53,98.1 188.03,92.0 188.53,91.6 189.03,93.8 189.53,93.0 190.03,93.8 190.53,85.9 191.03,92.1 191.53,91.3 192.03,87.2 192.53,92.0 193.03,89.2 193.53,88.6 194.03,82.5 194.53,84.9 195.03,85.5 195.53,91.5 196.03,92.4 196.53,93.3 197.03,90.8 197.53,93.4 198.03,96.0 198.53,100.9 199.03,95.9 199.53,104.5 200.03,98.4 200.53,101.3 201.03,104.5 201.53,105.1 202.03,114.4 202.53,111.8 203.03,118.4 203.53,119.3 204.03,114.7 204.53,117.9 205.03,123.0 205.53,120.0 206.03,120.8 206.53,110.1 207.03,104.6 207.53,105.0 208.03,107.8 208.53,112.7 209.03,116.1 209.53,111.4 210.03,110.1 210.53,111.5 211.03,107.2 211.53,104.1 212.03,111.2 212.53,105.7 213.03,111.3 213.53,107.3 214.03,117.4 214.53,110.6 215.03,117.0 215.53,120.7 216.03,113.5 216.53,120.8 217.03,114.7 217.53,109.3 218.03,115.9 218.53,116.4 219.03,112.6 219.53,105.2 220.03,113.5 220.53,115.5 221.03,116.9 221.53,115.3 222.03,107.7 222.53,108.3 223.03,114.7 223.53,114.3 224.03,106.8 224.53,103.3 225.03,105.7 225.53,107.7 226.03,106.1 226.53,99.5 227.03,103.6 227.53,104.8 228.03,110.2 228.53,110.9 229.03,109.2 229.53,110.4 230.03,103.6 230.53,107.9 231.03,100.6 231.53,100.7 232.03,101.2 232.53,93.3 233.03,91.1 233.53,86.9 234.03,93.8 234.53,95.0 235.03,94.9 235.53,98.3 236.03,89.9 236.53,96.2 237.03,98.2 237.53,97.8 238.03,101.9 238.53,106.5 239.03,100.0 239.53,96.9 240.03,96.9 240.53,99.0 241.03,100.8 241.53,96.7 242.03,104.4 242.53,100.3 243.03,107.7 243.53,108.1 244.03,107.2 244.53,112.2 245.03,103.8 245.53,102.2 246.03,104.8 246.53,107.1 247.03,100.1 247.53,105.6 248.03,105.9 248.53,113.2 249.03,119.5 249.53,118.8 250.03,121.0 250.53,125.2 251.03,118.5 251.53,131.7 252.03,134.6 252.53,135.1 253.03,134.6 253.53,133.9 254.03,133.4 254.53,136.2 255.03,130.9 255.53,133.7 256.03,124.2 256.53,131.2 257.03,136.9 257.53,139.0 258.03,135.0 258.53,138.4 259.03,146.1 259.53,140.8 260.03,144.5 260.53,145.1 261.03,147.7 261.53,152.7 262.03,154.4 262.53,150.3 263.03,163.0 263.53,162.4 264.03,158.4 264.53,160.1 265.03,151.1 265.53,151.4 266.03,157.4 266.53,161.2 267.03,156.6 267.53,154.6 268.03,154.9 268.53,155.6 269.03,152.2 269.53,165.6 270.03,158.6 270.53,160.9 271.03,161.6 271.53,164.4 272.03,164.9 272.53,171.6 273.03,179.6 273.53,177.8 274.03,176.2 274.53,181.8 275.03,181.8 275.53,185.4 276.03,190.0 276.53,194.3 277.03,196.6 277.53,202.9 278.03,201.9 278.53,197.2 279.03,200.7 279.53,199.1 280.03,204.2 280.53,201.6 281.03,205.4 281.53,205.2 282.03,196.4 282.53,197.0 283.03,197.2 283.53,204.7 284.03,199.7 284.53,207.4 285.03,210.9 285.53,211.2 286.03,212.4 286.53,210.5 287.03,212.2 287.53,214.7 288.03,218.0 288.53,220.6 289.03,219.6 289.53,219.0 290.03,220.0 290.53,223.3 291.03,219.9 291.53,219.3 292.03,218.4 292.53,215.6 293.03,214.0 293.53,206.2 294.03,208.8 294.53,207.9 295.03,209.5 295.53,202.7 296.03,205.1 296.53,207.2 297.03,208.1 297.53,211.2 298.03,212.5 298.53,207.4 299.03,208.1 299.53,203.8 300.03,199.8 300.53,204.8 301.03,199.6 301.53,194.3 302.03,188.3 302.53,190.5 303.03,198.3 303.53,200.0 304.03,202.0 304.53,199.4 305.03,195.9 305.53,199.3 306.03,196.6 306.53,197.4 307.03,199.1 307.53,200.6 308.03,202.7 308.53,197.6 309.03,198.3 309.53,196.7 310.03,192.8 310.53,192.1 311.03,193.8 311.53,195.5 312.03,197.1 312.53,199.0 313.03,199.4 313.53,199.1 314.03,202.3 314.53,200.3 315.03,199.3 315.53,202.1 316.03,200.2 316.53,202.6 317.03,205.2 317.53,208.7 318.03,213.1 318.53,214.5 319.03,214.1 319.53,209.6 320.03,212.0 320.53,208.7 321.03,209.2 321.53,199.2 322.03,200.2 322.53,201.1 323.03,191.1 323.53,191.2 324.03,189.3 324.53,185.7 325.03,180.0 325.53,183.3 326.03,183.2 326.53,183.0 327.03,192.8 327.53,197.2 328.03,199.1 328.53,198.4 329.03,201.2 329.53,201.0 330.03,200.4 330.53,194.2 331.03,186.1 331.53,181.5 332.03,188.5 332.53,194.7 333.03,205.1 333.53,210.0 334.03,211.5 334.53,209.1 335.03,216.5 335.53,219.6 336.03,221.7 336.53,221.6 337.03,228.0 337.53,228.2 338.03,229.2 338.53,228.7 339.03,225.4 339.53,216.7 340.03,210.9 340.53,213.3 341.03,208.1 341.53,206.2 342.03,207.9 342.53,207.0 343.03,201.8 343.53,209.8 344.03,213.6 344.53,214.5 345.03,210.6 345.53,219.7 346.03,223.8 346.53,222.5 347.03,228.9 347.53,236.2 348.03,237.9 348.53,238.1 349.03,234.1 349.53,234.0 350.03,232.9 350.53,229.1 351.03,230.0 351.53,242.0 352.03,239.9 352.53,243.7 353.03,246.4 353.53,250.4 354.03,250.9 354.53,250.0 355.03,252.7 355.53,250.9 356.03,255.0 356.53,255.3 357.03,247.0 357.53,248.3 358.03,251.1 358.53,253.7 359.03,250.4 359.53,251.9 360.03,253.2 360.53,258.2 361.03,265.2 361.53,271.3 362.03,268.4 362.53,274.6 363.03,272.8 363.53,269.5 364.03,272.8 364.53,263.2 365.03,264.9 365.53,265.5 366.03,273.1 366.53,276.9 367.03,281.5 367.53,279.7 368.03,282.4 368.53,285.1 369.03,282.7 369.53,279.8 370.03,276.5 370.53,276.4 371.03,275.3 371.53,281.3 372.03,278.5 372.53,275.4 373.03,277.9 373.53,277.1 374.03,276.5 374.53,278.2 375.03,272.6 375.53,269.0 376.03,265.2 376.53,262.2 377.03,258.2 377.53,260.4 378.03,267.4 378.53,262.9 379.03,258.6 379.53,262.9 380.03,263.7 380.53,265.3 381.03,267.1 381.53,269.2 382.03,270.6 382.53,270.0 383.03,267.5 383.53,267.5 384.03,264.5 384.53,265.2 385.03,263.3 385.53,265.9 386.03,265.8 386.53,263.0 387.03,264.3 387.53,268.3 388.03,266.1 388.53,260.7 389.03,261.4 389.53,262.7 390.03,260.8 390.53,260.4 391.03,261.1 391.53,258.6 392.03,253.4 392.53,254.5 393.03,252.2 393.53,251.6 394.03,249.4 394.53,246.5 395.03,246.9 395.53,249.6 396.03,249.4 396.53,246.5 397.03,253.2 397.53,249.1 398.03,248.7 398.53,251.1 399.03,246.5 399.53,254.2 400.03,252.2 400.53,254.8 401.03,252.2 401.53,252.8 402.03,252.0 402.53,251.7 403.03,248.2 403.53,248.5 404.03,251.8 404.53,255.7 405.03,252.7 405.53,254.6 406.03,254.5 406.53,255.4 407.03,256.9 407.53,252.3 408.03,255.5 408.53,256.1 409.03,256.8 409.53,256.6 410.03,257.8 410.53,258.8 411.03,260.1 411.53,267.5 412.03,267.7 412.53,264.6 413.03,265.9 413.53,264.1 414.03,261.3 414.53,263.7 415.03,268.7 415.53,272.7 416.03,271.1 416.53,269.6 417.03,271.7 417.53,272.0 418.03,272.7 418.53,277.1 419.03,279.7 419.53,279.3 420.03,277.7 420.53,276.2 421.03,277.0 421.53,278.2 422.03,274.4 422.53,277.2 423.03,269.4 423.53,274.2 424.03,274.5 424.53,277.7 425.03,279.4 425.53,281.4 426.03,283.6 426.53,282.3 427.03,282.2 427.53,285.4 428.03,288.2 428.53,288.4 429.03,292.5 429.53,295.9 430.03,292.5 430.53,293.5 431.03,294.0 431.53,288.3 432.03,290.1 432.53,289.2 433.03,286.5 433.53,290.1 434.03,288.4 434.53,286.3 435.03,287.0 435.53,286.9 436.03,287.8 436.53,288.6 437.03,289.2 437.53,287.4 438.03,288.8 438.53,290.6 439.03,286.6 439.53,294.2 440.03,289.8 440.53,286.4 441.03,283.0 441.53,285.1 442.03,285.0 442.53,283.7 443.03,283.4 443.53,282.9 444.03,283.6 444.53,285.5 445.03,285.4 445.53,288.5 446.03,288.5 446.53,289.8 447.03,291.3 447.53,293.9 448.03,294.0 448.53,294.3 449.03,294.5 449.53,294.8 450.03,296.8 450.53,299.8 451.03,299.9 451.53,299.3 452.03,298.1 452.53,297.7 453.03,300.0 453.53,301.2 454.03,300.0 454.53,296.6 455.03,297.9 455.53,298.9 456.03,297.2 456.53,299.0 457.03,298.4 457.53,297.3 458.03,296.8 458.53,300.2 459.03,300.5 459.53,298.8 460.03,298.5 460.53,301.8 461.03,301.9 461.53,300.5 462.03,303.2 462.53,300.7 463.03,299.6 463.53,305.6 464.03,307.1 464.53,310.5 465.03,311.7 465.53,311.6 466.03,312.5 466.53,315.4 467.03,319.0 467.53,317.0 468.03,320.8 468.53,320.7 469.03,318.3 469.53,319.3 470.03,319.6 470.53,317.1 471.03,315.4 471.53,319.0 472.03,318.0 472.53,320.4 473.03,317.2 473.53,318.6 474.03,317.5 474.53,315.9 475.03,317.0 475.53,317.4 476.03,316.0 476.53,314.4 477.03,315.4 477.53,311.9 478.03,313.7 478.53,313.2 479.03,314.4 479.53,313.1 480.03,311.7 480.53,310.9 481.03,309.6 481.53,306.5 482.03,309.3 482.53,307.6 483.03,305.1 483.53,302.2 484.03,304.8 484.53,303.6 485.03,301.6 485.53,304.7 486.03,307.9 486.53,306.2 487.03,307.3 487.53,307.1 488.03,307.5 488.53,311.0 489.03,315.2 489.53,312.0 490.03,311.4 490.53,313.0 491.03,312.1 491.53,313.9 492.03,314.8 492.53,312.6 493.03,312.5 493.53,314.4 494.03,316.5 494.53,316.5 495.03,318.2 495.53,314.9 496.03,317.1 496.53,316.2 497.03,317.2 497.53,318.0 498.03,316.5 498.53,317.4 499.03,316.5 499.53,318.5 500.03,317.6 500.53,318.1 501.03,319.4 501.53,318.6 502.03,321.2 502.53,319.4 503.03,321.3 503.53,321.1 504.03,319.4 504.53,320.4 505.03,320.0 505.53,320.7 506.03,321.2 506.53,324.4 507.03,322.1 507.53,323.8 508.03,322.2 508.53,319.1 509.03,316.7 509.53,321.5 510.03,319.6 510.53,323.7 511.03,325.7 511.53,325.6 512.03,325.1 512.53,325.4 513.03,326.5 513.53,326.4 514.03,326.5 514.53,327.1 515.03,329.7 515.53,326.8 516.03,326.7 516.53,323.9 517.03,323.1 517.53,323.5 518.03,326.4 518.53,329.4 519.03,330.7 519.53,328.0 520.03,327.3 520.53,324.2 521.03,323.0 521.53,321.9 522.03,321.2 522.53,316.1 523.03,315.9 523.53,318.4 524.03,317.4 524.53,320.2 525.03,316.9 525.53,315.5 526.03,319.3 526.53,319.8 527.03,322.7 527.53,321.7 528.03,320.6 528.53,321.9 529.03,320.2 529.53,320.6 530.03,320.7 530.53,321.4 531.03,323.1 531.53,322.1 532.03,323.4 532.53,322.9 533.03,325.1 533.53,321.0 534.03,324.1 534.53,325.6 535.03,324.6 535.53,327.5 536.03,327.2 536.53,328.7 537.03,328.8 537.53,328.6 538.03,327.7 538.53,326.5 539.03,327.6 539.53,327.7 540.03,328.8 540.53,328.3 541.03,333.0 541.53,328.1 542.03,330.9 542.53,329.5 543.03,329.8 543.53,331.5 544.03,330.7 544.53,329.1 545.03,331.0 545.53,330.6 546.03,328.3 546.53,330.8 547.03,329.8 547.53,330.1 548.03,331.8 548.53,332.1 549.03,331.4 549.53,334.6 550.03,333.1 550.53,331.5 551.03,332.4 551.53,332.3 552.03,329.8 552.53,330.3 553.03,330.9 553.53,335.5 554.03,333.8 554.53,333.6 555.03,333.4 555.53,335.4 556.03,334.4 556.53,336.3 557.03,335.4 557.53,336.2 558.03,334.0 558.53,334.1 559.03,333.0 559.53,333.2 560.03,333.2 560.53,335.0 561.03,335.5 561.53,336.6 562.03,339.6 562.53,339.5 563.03,341.0 563.53,341.2 564.03,341.8 564.53,342.8 565.03,342.0 565.53,344.2 566.03,344.2 566.53,345.2 567.03,348.6 567.53,351.5 568.03,349.8 568.53,352.7 569.03,352.7 569.53,351.3 570.03,352.6 570.53,353.4 571.03,353.9 571.53,353.7 572.03,353.1 572.53,355.1 573.03,357.2 573.53,358.3 574.03,359.2 574.53,359.1 575.03,356.1 575.53,355.6 576.03,355.1 576.53,354.6 577.03,352.3 577.53,351.1 578.03,349.2 578.53,350.7 579.03,346.0 579.53,347.3 580.03,350.1 580.53,348.3 581.03,345.8 581.53,347.6 582.03,346.3 582.53,347.0 583.03,347.5 583.53,348.8 584.03,347.1 584.53,346.4 585.03,348.0 585.53,348.5 586.03,348.5 586.53,350.4 587.03,352.0 587.53,352.4 588.03,352.4 588.53,352.4 589.03,351.0 589.53,351.0 590.03,351.8 590.53,351.5 591.03,351.6 591.53,352.9 592.03,351.8 592.53,351.0 593.03,349.4 593.53,348.3 594.03,348.8 594.53,346.8 595.03,347.0 595.53,344.6 596.03,344.9 596.53,344.2 597.03,344.8 597.53,342.7 598.03,341.8 598.53,341.8 599.03,341.1 599.53,342.3 600.03,342.1 600.53,343.4 601.03,345.2 601.53,346.7 602.03,347.3 602.53,348.5 603.03,346.9 603.53,351.2 604.03,351.7 604.53,350.2 605.03,349.0 605.53,350.6 606.03,351.4 606.53,348.9 607.03,351.0 607.53,350.0 608.03,352.1 608.53,353.8 609.03,354.1 609.53,351.8 610.03,354.7 610.53,355.1 611.03,354.2 611.53,354.8 612.03,355.2 612.53,352.8 613.03,352.0 613.53,350.7 614.03,351.7 614.53,348.0 615.03,350.7 615.53,348.2 616.03,349.4 616.53,346.5 617.03,346.5 617.53,346.6 618.03,348.1 618.53,345.4 619.03,347.2 619.53,345.9 620.03,347.6 620.53,346.0 621.03,346.3 621.53,345.5 622.03,347.3 622.53,345.1 623.03,344.8 623.53,346.8 624.03,344.9 624.53,345.0 625.03,343.1 625.53,343.7 626.03,340.7 626.53,342.7 627.03,341.9 627.53,339.8 628.03,338.7 628.53,340.7 629.03,339.5 629.53,336.1 630.03,339.9 630.53,338.1 631.03,338.5 631.53,339.7 632.03,338.7 632.53,338.9 633.03,341.1 633.53,344.8 634.03,346.4 634.53,343.7 635.03,345.9 635.53,344.8 636.03,344.8 636.53,344.1 637.03,344.2 637.53,342.4 638.03,341.9 638.53,341.9 639.03,342.5 639.53,344.2 640.03,342.8 640.53,345.4 641.03,343.2 641.53,342.6 642.03,343.8 642.53,343.5 643.03,342.8 643.53,342.0 644.03,342.1 644.53,341.7 645.03,344.9 645.53,345.6 646.03,346.6 646.53,345.2 647.03,344.7 647.53,345.1 648.03,345.5 648.53,344.3 649.03,344.8 649.53,347.1 650.03,343.3 650.53,343.0 651.03,343.8 651.53,346.2 652.03,347.4 652.53,346.3 653.03,347.5 653.53,347.3 654.03,348.1 654.53,347.7 655.03,348.6 655.53,349.2 656.03,350.8 656.53,352.5 657.03,348.6 657.53,350.6 658.03,350.6 658.53,351.9 659.03,352.6 659.53,352.7 660.03,353.1 660.53,351.6 661.03,350.5 661.53,353.5 662.03,353.3 662.53,350.7 663.03,352.3 663.53,351.6 664.03,347.7 664.53,350.1 665.03,348.1 665.53,349.7 666.03,347.6 666.53,347.3 667.03,346.6 667.53,348.1 668.03,350.0 668.53,348.7 669.03,347.4 669.53,351.7 670.03,352.4 670.53,351.5 671.03,350.2 671.53,349.1 672.03,347.9 672.53,349.7 673.03,350.4 673.53,347.6 674.03,347.8 674.53,347.4 675.03,347.2 675.53,347.7 676.03,349.4 676.53,346.5 677.03,347.0 677.53,346.9 678.03,344.7 678.53,344.0 679.03,342.9 679.53,345.7 680.03,344.7 680.53,344.6 681.03,345.6 681.53,345.0 682.03,344.9 682.53,345.9 683.03,348.3 683.53,347.1 684.03,347.8 684.53,346.0 685.03,345.3 685.53,349.5 686.03,347.9 686.53,346.3 687.03,347.6 687.53,348.6 688.03,346.3 688.53,346.6 689.03,347.7 689.53,346.4 690.03,347.9 690.53,348.2 691.03,347.4 691.53,346.1 692.03,346.1 692.53,345.2 693.03,345.4 693.53,345.8 694.03,345.7 694.53,347.5 695.03,350.1 695.53,347.5 696.03,348.3 696.53,348.9 697.03,348.7 697.53,347.6 698.03,347.0 698.53,348.5 699.03,348.2 699.53,347.9 700.03,346.2 700.53,347.4 701.03,346.9 701.53,344.7 702.03,344.2 702.53,345.5 703.03,342.8 703.53,345.3 704.03,327.7 704.53,328.9 705.03,332.1 705.53,335.1 706.03,334.2 706.53,332.1 707.03,331.0 707.53,331.6 708.03,332.8 708.53,332.2 709.03,331.5 709.53,335.1 710.03,331.9 710.53,331.5 711.03,330.4 711.53,329.7 712.03,329.9 712.53,329.2 713.03,329.8 713.53,327.8 714.03,327.3 714.53,331.8 715.03,330.3 715.53,330.0 716.03,329.6 716.53,327.9"/>
<polyline fill="none" stroke="#d6b02a" stroke-width="1.05" shape-rendering="crispEdges" stroke-linejoin="miter" points="113.03,266.5 113.53,266.4 114.03,268.6 114.53,276.0 115.03,278.2 115.53,279.9 116.03,277.8 116.53,275.3 117.03,275.9 117.53,275.0 118.03,276.4 118.53,276.5 119.03,282.8 119.53,281.8 120.03,283.3 120.53,284.2 121.03,281.8 121.53,277.5 122.03,278.1 122.53,280.3 123.03,275.1 123.53,275.8 124.03,274.4 124.53,273.4 125.03,278.7 125.53,280.7 126.03,282.4 126.53,281.0 127.03,275.5 127.53,277.1 128.03,275.5 128.53,274.5 129.03,274.9 129.53,278.8 130.03,278.1 130.53,283.6 131.03,284.0 131.53,281.8 132.03,288.1 132.53,291.3 133.03,291.0 133.53,290.1 134.03,296.1 134.53,292.8 135.03,294.5 135.53,292.2 136.03,293.2 136.53,293.4 137.03,298.8 137.53,300.8 138.03,299.5 138.53,298.7 139.03,301.9 139.53,304.4 140.03,303.2 140.53,304.6 141.03,307.5 141.53,310.3 142.03,310.1 142.53,308.4 143.03,303.8 143.53,299.4 144.03,301.8 144.53,299.1 145.03,298.6 145.53,296.9 146.03,296.8 146.53,293.5 147.03,295.3 147.53,291.8 148.03,289.8 148.53,287.6 149.03,285.9 149.53,283.7 150.03,281.7 150.53,284.9 151.03,291.4 151.53,291.9 152.03,293.8 152.53,295.6 153.03,295.7 153.53,297.2 154.03,298.7 154.53,303.1 155.03,303.9 155.53,306.8 156.03,302.8 156.53,302.2 157.03,297.8 157.53,292.6 158.03,298.4 158.53,298.4 159.03,301.0 159.53,300.9 160.03,298.8 160.53,298.3 161.03,295.3 161.53,293.8 162.03,294.2 162.53,294.9 163.03,293.7 163.53,295.5 164.03,297.0 164.53,300.6 165.03,301.4 165.53,298.8 166.03,298.3 166.53,295.2 167.03,294.4 167.53,292.3 168.03,290.3 168.53,290.2 169.03,286.6 169.53,288.5 170.03,287.4 170.53,285.6 171.03,286.3 171.53,287.9 172.03,285.6 172.53,286.6 173.03,286.6 173.53,287.9 174.03,282.9 174.53,284.3 175.03,286.8 175.53,290.1 176.03,289.5 176.53,291.3 177.03,289.0 177.53,291.3 178.03,296.7 178.53,295.7 179.03,300.4 179.53,297.4 180.03,298.3 180.53,297.1 181.03,300.5 181.53,300.3 182.03,302.9 182.53,300.2 183.03,299.1 183.53,297.3 184.03,299.2 184.53,301.5 185.03,301.5 185.53,302.1 186.03,301.4 186.53,299.6 187.03,300.2 187.53,299.4 188.03,296.7 188.53,301.0 189.03,299.5 189.53,296.8 190.03,298.7 190.53,299.5 191.03,301.2 191.53,302.6 192.03,295.6 192.53,299.5 193.03,301.5 193.53,297.4 194.03,294.7 194.53,297.3 195.03,298.3 195.53,300.2 196.03,299.6 196.53,302.0 197.03,304.7 197.53,306.8 198.03,310.2 198.53,308.8 199.03,307.7 199.53,305.2 200.03,310.3 200.53,309.9 201.03,310.3 201.53,309.4 202.03,312.2 202.53,309.4 203.03,311.8 203.53,311.2 204.03,310.6 204.53,311.2 205.03,308.4 205.53,307.3 206.03,307.5 206.53,302.9 207.03,303.3 207.53,303.3 208.03,304.2 208.53,300.9 209.03,302.4 209.53,303.4 210.03,301.6 210.53,302.3 211.03,303.5 211.53,307.0 212.03,308.6 212.53,310.5 213.03,311.8 213.53,310.8 214.03,313.8 214.53,314.0 215.03,313.7 215.53,313.7 216.03,311.2 216.53,313.3 217.03,311.8 217.53,311.4 218.03,312.7 218.53,313.8 219.03,313.9 219.53,313.6 220.03,312.7 220.53,314.0 221.03,312.6 221.53,311.1 222.03,312.7 222.53,314.9 223.03,312.2 223.53,310.7 224.03,314.1 224.53,315.3 225.03,312.5 225.53,312.0 226.03,312.6 226.53,316.7 227.03,313.1 227.53,313.6 228.03,312.7 228.53,309.0 229.03,309.2 229.53,309.1 230.03,311.8 230.53,312.0 231.03,314.7 231.53,312.2 232.03,312.8 232.53,312.7 233.03,313.1 233.53,316.7 234.03,314.7 234.53,316.3 235.03,316.6 235.53,313.8 236.03,315.0 236.53,313.5 237.03,313.8 237.53,313.8 238.03,313.5 238.53,312.4 239.03,314.8 239.53,312.1 240.03,312.7 240.53,313.9 241.03,312.1 241.53,312.0 242.03,312.1 242.53,311.3 243.03,311.7 243.53,306.2 244.03,309.3 244.53,305.9 245.03,301.4 245.53,302.1 246.03,302.4 246.53,305.6 247.03,305.0 247.53,306.7 248.03,310.3 248.53,312.0 249.03,312.1 249.53,314.0 250.03,315.4 250.53,316.7 251.03,317.6 251.53,318.1 252.03,320.0 252.53,317.0 253.03,318.3 253.53,319.8 254.03,319.5 254.53,319.6 255.03,320.0 255.53,321.3 256.03,323.3 256.53,321.9 257.03,321.8 257.53,322.9 258.03,322.7 258.53,320.7 259.03,323.8 259.53,323.9 260.03,323.7 260.53,325.8 261.03,325.8 261.53,325.3 262.03,323.4 262.53,323.2 263.03,325.3 263.53,325.3 264.03,325.8 264.53,325.3 265.03,324.0 265.53,323.0 266.03,323.3 266.53,325.0 267.03,324.2 267.53,326.9 268.03,324.9 268.53,324.1 269.03,326.4 269.53,324.9 270.03,329.6 270.53,327.2 271.03,328.3 271.53,328.8 272.03,328.6 272.53,327.9 273.03,328.2 273.53,332.4 274.03,333.9 274.53,336.0 275.03,331.9 275.53,334.0 276.03,334.0 276.53,335.3 277.03,334.1 277.53,335.5 278.03,336.0 278.53,335.7 279.03,336.7 279.53,334.8 280.03,336.7 280.53,334.6 281.03,337.8 281.53,333.3 282.03,336.5 282.53,336.6 283.03,338.2 283.53,340.1 284.03,340.4 284.53,339.9 285.03,342.1 285.53,338.8 286.03,339.3 286.53,342.3 287.03,341.4 287.53,338.3 288.03,340.6 288.53,339.2 289.03,342.2 289.53,341.9 290.03,338.9 290.53,339.8 291.03,336.5 291.53,337.3 292.03,336.2 292.53,334.5 293.03,332.3 293.53,333.1 294.03,330.4 294.53,331.8 295.03,330.1 295.53,333.6 296.03,331.1 296.53,328.4 297.03,331.6 297.53,331.7 298.03,330.3 298.53,333.2 299.03,331.7 299.53,330.2 300.03,328.7 300.53,325.0 301.03,328.7 301.53,329.9 302.03,328.5 302.53,327.3 303.03,329.2 303.53,327.7 304.03,329.9 304.53,331.7 305.03,333.6 305.53,332.8 306.03,333.1 306.53,334.4 307.03,336.1 307.53,334.7 308.03,333.4 308.53,334.0 309.03,333.8 309.53,334.5 310.03,335.9 310.53,337.0 311.03,337.3 311.53,337.5 312.03,337.3 312.53,338.5 313.03,339.5 313.53,339.9 314.03,341.4 314.53,340.1 315.03,340.4 315.53,343.4 316.03,342.7 316.53,343.3 317.03,342.8 317.53,344.5 318.03,343.4 318.53,342.8 319.03,344.0 319.53,344.1 320.03,344.8 320.53,342.6 321.03,342.0 321.53,340.6 322.03,339.8 322.53,337.2 323.03,337.7 323.53,333.4 324.03,332.6 324.53,330.9 325.03,331.1 325.53,329.1 326.03,328.2 326.53,325.6 327.03,323.4 327.53,321.2 328.03,321.3 328.53,320.7 329.03,321.4 329.53,321.2 330.03,321.4 330.53,319.0 331.03,316.8 331.53,315.1 332.03,317.5 332.53,320.2 333.03,324.6 333.53,324.5 334.03,328.0 334.53,330.0 335.03,327.6 335.53,331.4 336.03,331.1 336.53,329.0 337.03,324.7 337.53,323.2 338.03,316.5 338.53,309.6 339.03,302.6 339.53,299.9 340.03,292.1 340.53,288.7 341.03,285.3 341.53,285.1 342.03,288.0 342.53,290.5 343.03,290.0 343.53,293.9 344.03,294.0 344.53,295.3 345.03,297.4 345.53,294.5 346.03,290.6 346.53,287.2 347.03,291.5 347.53,294.1 348.03,294.7 348.53,297.3 349.03,295.5 349.53,297.2 350.03,296.7 350.53,295.6 351.03,293.9 351.53,297.3 352.03,300.1 352.53,304.1 353.03,305.1 353.53,306.9 354.03,307.3 354.53,311.5 355.03,312.0 355.53,309.1 356.03,309.8 356.53,309.1 357.03,306.9 357.53,303.1 358.03,305.9 358.53,299.3 359.03,300.4 359.53,301.3 360.03,305.1 360.53,304.6 361.03,306.4 361.53,308.9 362.03,310.3 362.53,310.3 363.03,313.3 363.53,314.7 364.03,317.0 364.53,316.5 365.03,318.3 365.53,319.8 366.03,321.1 366.53,324.5 367.03,327.0 367.53,329.5 368.03,328.5 368.53,330.0 369.03,332.1 369.53,330.5 370.03,330.1 370.53,329.8 371.03,328.4 371.53,327.5 372.03,329.9 372.53,328.8 373.03,328.0 373.53,326.0 374.03,327.1 374.53,328.5 375.03,325.4 375.53,324.8 376.03,327.2 376.53,327.9 377.03,327.9 377.53,324.7 378.03,325.4 378.53,323.5 379.03,324.8 379.53,323.7 380.03,324.1 380.53,325.7 381.03,324.5 381.53,323.6 382.03,324.1 382.53,324.8 383.03,324.1 383.53,325.2 384.03,326.3 384.53,328.1 385.03,323.7 385.53,324.3 386.03,324.6 386.53,327.9 387.03,330.9 387.53,328.8 388.03,328.7 388.53,330.4 389.03,326.4 389.53,329.0 390.03,326.0 390.53,329.8 391.03,329.3 391.53,329.0 392.03,329.7 392.53,328.4 393.03,330.1 393.53,328.6 394.03,328.2 394.53,330.6 395.03,326.4 395.53,326.9 396.03,324.1 396.53,325.8 397.03,325.2 397.53,323.3 398.03,323.5 398.53,323.8 399.03,323.1 399.53,322.4 400.03,323.1 400.53,325.9 401.03,323.9 401.53,325.5 402.03,327.4 402.53,328.2 403.03,330.3 403.53,330.9 404.03,329.3 404.53,329.3 405.03,326.6 405.53,327.3 406.03,327.8 406.53,326.9 407.03,326.9 407.53,327.4 408.03,325.4 408.53,325.4 409.03,323.8 409.53,327.4 410.03,325.1 410.53,324.4 411.03,328.2 411.53,328.1 412.03,330.2 412.53,329.4 413.03,333.1 413.53,331.5 414.03,330.1 414.53,329.6 415.03,328.7 415.53,329.7 416.03,331.2 416.53,329.2 417.03,328.8 417.53,331.7 418.03,333.7 418.53,331.6 419.03,333.0 419.53,333.1 420.03,335.4 420.53,336.0 421.03,334.9 421.53,334.4 422.03,336.8 422.53,334.4 423.03,337.9 423.53,338.1 424.03,341.2 424.53,341.3 425.03,339.9 425.53,340.3 426.03,340.6 426.53,340.4 427.03,341.6 427.53,343.1 428.03,340.8 428.53,342.3 429.03,345.2 429.53,345.4 430.03,344.2 430.53,344.5 431.03,345.0 431.53,343.9 432.03,346.3 432.53,345.0 433.03,343.3 433.53,341.5 434.03,341.9 434.53,341.6 435.03,344.3 435.53,342.3 436.03,342.5 436.53,343.7 437.03,343.5 437.53,342.2 438.03,339.3 438.53,342.7 439.03,342.2 439.53,340.6 440.03,340.4 440.53,339.1 441.03,338.6 441.53,337.5 442.03,339.5 442.53,339.6 443.03,338.9 443.53,339.3 444.03,338.7 444.53,337.8 445.03,336.0 445.53,337.2 446.03,338.1 446.53,338.4 447.03,339.9 447.53,338.8 448.03,338.6 448.53,341.8 449.03,340.4 449.53,341.4 450.03,341.3 450.53,341.8 451.03,341.8 451.53,341.7 452.03,340.2 452.53,344.2 453.03,343.0 453.53,340.3 454.03,340.9 454.53,340.9 455.03,342.0 455.53,340.6 456.03,344.6 456.53,347.1 457.03,346.0 457.53,347.4 458.03,347.7 458.53,345.9 459.03,348.6 459.53,346.2 460.03,347.2 460.53,347.9 461.03,350.1 461.53,349.6 462.03,349.4 462.53,348.9 463.03,350.1 463.53,350.5 464.03,351.6 464.53,352.9 465.03,352.6 465.53,352.1 466.03,352.1 466.53,354.2 467.03,353.1 467.53,352.6 468.03,354.5 468.53,354.6 469.03,353.6 469.53,352.6 470.03,352.1 470.53,354.2 471.03,353.2 471.53,354.8 472.03,353.5 472.53,354.5 473.03,355.0 473.53,354.8 474.03,354.8 474.53,355.0 475.03,353.4 475.53,353.2 476.03,353.6 476.53,355.2 477.03,352.9 477.53,351.1 478.03,350.5 478.53,350.6 479.03,351.3 479.53,349.0 480.03,349.3 480.53,348.4 481.03,347.0 481.53,345.6 482.03,345.9 482.53,345.0 483.03,346.0 483.53,343.3 484.03,345.8 484.53,345.7 485.03,345.5 485.53,346.9 486.03,346.4 486.53,343.9 487.03,345.7 487.53,346.8 488.03,345.9 488.53,345.5 489.03,347.5 489.53,348.3 490.03,347.6 490.53,348.0 491.03,348.0 491.53,348.2 492.03,349.1 492.53,350.8 493.03,348.4 493.53,349.6 494.03,352.3 494.53,351.6 495.03,351.6 495.53,352.6 496.03,351.1 496.53,350.8 497.03,350.4 497.53,350.5 498.03,352.4 498.53,353.4 499.03,352.3 499.53,351.7 500.03,352.9 500.53,353.7 501.03,353.7 501.53,351.7 502.03,353.0 502.53,351.4 503.03,354.2 503.53,353.6 504.03,353.7 504.53,356.0 505.03,356.2 505.53,355.4 506.03,355.1 506.53,355.2 507.03,354.7 507.53,355.4 508.03,357.9 508.53,355.7 509.03,355.8 509.53,356.9 510.03,358.2 510.53,358.6 511.03,357.1 511.53,358.0 512.03,358.3 512.53,356.9 513.03,357.7 513.53,357.1 514.03,358.1 514.53,357.5 515.03,355.9 515.53,356.2 516.03,355.5 516.53,354.8 517.03,354.6 517.53,355.9 518.03,354.3 518.53,352.4 519.03,352.7 519.53,354.2 520.03,355.7 520.53,352.3 521.03,352.1 521.53,351.8 522.03,350.3 522.53,351.7 523.03,351.2 523.53,351.2 524.03,353.1 524.53,351.0 525.03,352.0 525.53,352.5 526.03,351.3 526.53,351.4 527.03,354.0 527.53,353.8 528.03,353.5 528.53,352.3 529.03,354.5 529.53,354.8 530.03,356.9 530.53,356.8 531.03,356.3 531.53,356.0 532.03,355.9 532.53,355.6 533.03,356.6 533.53,357.1 534.03,357.8 534.53,358.7 535.03,358.3 535.53,357.7 536.03,359.2 536.53,360.5 537.03,358.6 537.53,359.8 538.03,360.4 538.53,360.8 539.03,361.1 539.53,360.8 540.03,361.0 540.53,363.1 541.03,363.8 541.53,361.1 542.03,359.8 542.53,362.5 543.03,362.0 543.53,362.0 544.03,361.0 544.53,362.6 545.03,362.6 545.53,362.1 546.03,363.4 546.53,365.1 547.03,364.6 547.53,364.2 548.03,362.5 548.53,363.3 549.03,363.1 549.53,364.5 550.03,364.5 550.53,364.2 551.03,364.9 551.53,364.1 552.03,365.3 552.53,366.2 553.03,364.6 553.53,365.2 554.03,363.2 554.53,365.2 555.03,365.6 555.53,363.9 556.03,366.1 556.53,365.1 557.03,363.1 557.53,363.0 558.03,365.2 558.53,364.5 559.03,365.7 559.53,363.4 560.03,364.3 560.53,365.5 561.03,364.2 561.53,365.2 562.03,364.4 562.53,364.9 563.03,365.0 563.53,367.2 564.03,364.6 564.53,366.2 565.03,367.3 565.53,365.5 566.03,366.6 566.53,369.7 567.03,370.0 567.53,367.2 568.03,369.9 568.53,370.0 569.03,372.5 569.53,372.7 570.03,373.4 570.53,373.8 571.03,375.4 571.53,375.6 572.03,375.8 572.53,376.1 573.03,376.4 573.53,375.2 574.03,376.3 574.53,373.9 575.03,374.9 575.53,373.7 576.03,374.3 576.53,371.7 577.03,370.3 577.53,368.7 578.03,370.5 578.53,368.9 579.03,366.1 579.53,365.5 580.03,364.0 580.53,366.5 581.03,366.2 581.53,364.0 582.03,365.9 582.53,367.1 583.03,366.9 583.53,367.7 584.03,367.7 584.53,368.4 585.03,369.0 585.53,368.8 586.03,370.3 586.53,371.1 587.03,371.7 587.53,371.8 588.03,371.8 588.53,372.5 589.03,373.0 589.53,370.0 590.03,370.9 590.53,372.5 591.03,372.3 591.53,370.6 592.03,371.9 592.53,369.9 593.03,369.4 593.53,371.1 594.03,368.7 594.53,367.8 595.03,365.7 595.53,365.3 596.03,364.4 596.53,364.6 597.03,362.5 597.53,364.2 598.03,362.6 598.53,362.0 599.03,362.2 599.53,363.8 600.03,365.2 600.53,364.0 601.03,366.3 601.53,367.3 602.03,367.7 602.53,367.1 603.03,365.5 603.53,367.4 604.03,366.9 604.53,367.6 605.03,366.2 605.53,367.8 606.03,369.0 606.53,368.5 607.03,370.0 607.53,371.9 608.03,371.4 608.53,370.9 609.03,373.9 609.53,370.9 610.03,371.8 610.53,373.7 611.03,373.7 611.53,372.8 612.03,375.3 612.53,375.9 613.03,374.4 613.53,375.8 614.03,375.1 614.53,375.3 615.03,372.9 615.53,373.5 616.03,374.8 616.53,375.2 617.03,374.5 617.53,373.0 618.03,372.7 618.53,371.7 619.03,372.8 619.53,371.3 620.03,371.5 620.53,369.4 621.03,369.2 621.53,371.9 622.03,370.7 622.53,370.5 623.03,368.3 623.53,369.8 624.03,372.0 624.53,369.3 625.03,367.9 625.53,369.4 626.03,369.2 626.53,369.2 627.03,368.1 627.53,367.5 628.03,366.8 628.53,367.5 629.03,366.2 629.53,366.0 630.03,364.2 630.53,365.4 631.03,364.7 631.53,365.0 632.03,365.9 632.53,365.4 633.03,365.1 633.53,364.1 634.03,365.7 634.53,366.9 635.03,365.9 635.53,366.2 636.03,364.6 636.53,364.7 637.03,366.4 637.53,367.6 638.03,366.3 638.53,364.8 639.03,365.7 639.53,364.7 640.03,365.7 640.53,367.8 641.03,366.4 641.53,365.5 642.03,366.3 642.53,364.9 643.03,365.5 643.53,365.7 644.03,366.2 644.53,364.7 645.03,366.6 645.53,367.2 646.03,364.4 646.53,363.4 647.03,364.9 647.53,367.4 648.03,366.7 648.53,367.4 649.03,367.6 649.53,368.1 650.03,367.0 650.53,367.1 651.03,368.4 651.53,369.3 652.03,369.9 652.53,370.2 653.03,369.9 653.53,371.6 654.03,371.8 654.53,372.8 655.03,370.2 655.53,373.2 656.03,371.0 656.53,373.1 657.03,372.9 657.53,373.8 658.03,373.6 658.53,373.8 659.03,374.3 659.53,374.5 660.03,373.5 660.53,371.9 661.03,373.0 661.53,374.1 662.03,372.9 662.53,373.6 663.03,372.8 663.53,372.0 664.03,373.7 664.53,374.5 665.03,373.1 665.53,372.9 666.03,373.7 666.53,372.1 667.03,372.4 667.53,374.4 668.03,374.8 668.53,373.8 669.03,373.6 669.53,374.7 670.03,373.6 670.53,374.4 671.03,375.0 671.53,373.4 672.03,375.7 672.53,376.4 673.03,376.9 673.53,375.0 674.03,374.8 674.53,374.9 675.03,374.3 675.53,376.8 676.03,374.5 676.53,374.5 677.03,375.4 677.53,376.2 678.03,377.6 678.53,376.1 679.03,377.7 679.53,377.7 680.03,376.9 680.53,378.1 681.03,377.2 681.53,379.7 682.03,378.5 682.53,379.9 683.03,380.6 683.53,379.3 684.03,379.1 684.53,380.1 685.03,379.5 685.53,381.2 686.03,381.1 686.53,380.6 687.03,380.7 687.53,382.1 688.03,380.8 688.53,383.3 689.03,382.3 689.53,383.0 690.03,382.1 690.53,383.5 691.03,382.8 691.53,382.6 692.03,381.6 692.53,381.0 693.03,382.3 693.53,381.8 694.03,381.7 694.53,381.8 695.03,382.1 695.53,381.9 696.03,381.6 696.53,380.5 697.03,383.3 697.53,381.2 698.03,380.1 698.53,381.1 699.03,383.3 699.53,383.2 700.03,381.8 700.53,382.2 701.03,381.8 701.53,379.8 702.03,380.5 702.53,381.0 703.03,382.4 703.53,380.9 704.03,374.3 704.53,374.8 705.03,376.7 705.53,377.0 706.03,377.3 706.53,377.4 707.03,376.8 707.53,375.7 708.03,376.9 708.53,377.0 709.03,377.0 709.53,377.5 710.03,375.4 710.53,373.9 711.03,374.0 711.53,377.3 712.03,375.2 712.53,375.8 713.03,375.5 713.53,375.8 714.03,377.9 714.53,374.8 715.03,374.3 715.53,373.6 716.03,374.0 716.53,374.2"/>
<polyline fill="none" stroke="#5210bf" stroke-width="1.05" shape-rendering="crispEdges" stroke-linejoin="miter" points="113.03,282.3 113.53,287.6 114.03,289.5 114.53,289.8 115.03,290.1 115.53,290.7 116.03,289.1 116.53,293.6 117.03,292.5 117.53,293.9 118.03,297.5 118.53,295.8 119.03,296.9 119.53,298.5 120.03,299.7 120.53,294.8 121.03,296.1 121.53,293.6 122.03,295.1 122.53,295.8 123.03,293.4 123.53,297.1 124.03,299.8 124.53,298.0 125.03,298.6 125.53,295.6 126.03,299.1 126.53,296.1 127.03,292.4 127.53,295.2 128.03,292.3 128.53,293.2 129.03,291.1 129.53,297.5 130.03,301.3 130.53,298.2 131.03,298.6 131.53,299.7 132.03,300.7 132.53,303.5 133.03,306.3 133.53,303.7 134.03,306.3 134.53,304.1 135.03,309.7 135.53,309.1 136.03,308.8 136.53,313.0 137.03,312.1 137.53,315.0 138.03,315.9 138.53,317.7 139.03,315.2 139.53,317.2 140.03,319.5 140.53,320.5 141.03,324.6 141.53,322.1 142.03,322.2 142.53,321.3 143.03,314.8 143.53,313.4 144.03,311.7 144.53,310.6 145.03,310.6 145.53,308.6 146.03,307.3 146.53,304.7 147.03,302.7 147.53,301.2 148.03,299.3 148.53,294.8 149.03,294.1 149.53,291.9 150.03,291.7 150.53,291.8 151.03,297.6 151.53,299.9 152.03,300.1 152.53,300.4 153.03,302.1 153.53,303.5 154.03,304.5 154.53,311.7 155.03,317.6 155.53,313.3 156.03,310.1 156.53,310.5 157.03,309.1 157.53,304.1 158.03,303.9 158.53,308.5 159.03,306.3 159.53,311.9 160.03,309.3 160.53,309.3 161.03,308.8 161.53,307.4 162.03,306.9 162.53,305.7 163.03,307.1 163.53,304.5 164.03,304.7 164.53,304.4 165.03,304.6 165.53,304.8 166.03,305.0 166.53,307.2 167.03,305.7 167.53,303.2 168.03,303.8 168.53,301.6 169.03,298.7 169.53,296.2 170.03,294.7 170.53,297.1 171.03,297.1 171.53,295.3 172.03,294.7 172.53,299.1 173.03,296.3 173.53,295.4 174.03,295.9 174.53,296.2 175.03,299.0 175.53,301.7 176.03,300.5 176.53,301.9 177.03,303.4 177.53,301.7 178.03,303.1 178.53,302.8 179.03,305.7 179.53,305.5 180.03,308.3 180.53,306.2 181.03,310.1 181.53,308.1 182.03,306.8 182.53,306.2 183.03,308.3 183.53,306.2 184.03,309.7 184.53,309.4 185.03,308.0 185.53,304.4 186.03,305.6 186.53,304.2 187.03,301.8 187.53,304.5 188.03,307.5 188.53,303.3 189.03,304.3 189.53,304.8 190.03,301.0 190.53,301.1 191.03,301.9 191.53,302.2 192.03,299.8 192.53,302.3 193.03,302.9 193.53,305.3 194.03,302.4 194.53,304.3 195.03,305.6 195.53,306.9 196.03,309.6 196.53,308.9 197.03,314.5 197.53,310.7 198.03,312.7 198.53,313.8 199.03,314.4 199.53,313.3 200.03,312.8 200.53,314.2 201.03,316.3 201.53,316.0 202.03,316.8 202.53,317.2 203.03,315.3 203.53,315.2 204.03,318.9 204.53,317.1 205.03,315.4 205.53,320.3 206.03,317.3 206.53,314.6 207.03,315.2 207.53,310.6 208.03,308.7 208.53,311.6 209.03,309.3 209.53,314.0 210.03,311.2 210.53,315.1 211.03,312.4 211.53,312.1 212.03,311.4 212.53,312.3 213.03,312.5 213.53,313.6 214.03,315.4 214.53,313.0 215.03,313.3 215.53,311.9 216.03,317.2 216.53,316.2 217.03,316.4 217.53,316.4 218.03,318.1 218.53,317.6 219.03,318.4 219.53,317.2 220.03,317.2 220.53,316.8 221.03,313.7 221.53,317.0 222.03,313.3 222.53,313.0 223.03,315.1 223.53,314.4 224.03,315.3 224.53,316.7 225.03,317.1 225.53,316.3 226.03,313.6 226.53,316.6 227.03,312.9 227.53,313.5 228.03,315.4 228.53,314.1 229.03,314.1 229.53,313.5 230.03,315.7 230.53,310.1 231.03,314.4 231.53,314.6 232.03,312.7 232.53,313.3 233.03,311.3 233.53,314.2 234.03,317.8 234.53,312.7 235.03,315.3 235.53,313.7 236.03,313.1 236.53,312.9 237.03,313.5 237.53,312.1 238.03,311.8 238.53,316.2 239.03,314.2 239.53,314.4 240.03,313.8 240.53,313.7 241.03,310.4 241.53,310.3 242.03,312.4 242.53,313.2 243.03,309.8 243.53,309.7 244.03,308.6 244.53,311.1 245.03,311.6 245.53,311.7 246.03,311.0 246.53,312.8 247.03,313.1 247.53,312.5 248.03,314.7 248.53,314.3 249.03,317.3 249.53,318.1 250.03,317.0 250.53,319.3 251.03,319.5 251.53,318.9 252.03,319.0 252.53,318.5 253.03,319.7 253.53,322.6 254.03,324.5 254.53,322.6 255.03,323.6 255.53,324.3 256.03,325.3 256.53,325.4 257.03,327.1 257.53,327.3 258.03,325.8 258.53,327.6 259.03,324.8 259.53,327.6 260.03,328.5 260.53,330.9 261.03,331.4 261.53,334.2 262.03,336.5 262.53,331.4 263.03,328.7 263.53,327.3 264.03,325.3 264.53,325.4 265.03,326.8 265.53,324.6 266.03,327.3 266.53,328.9 267.03,329.7 267.53,329.5 268.03,329.1 268.53,330.4 269.03,330.5 269.53,329.1 270.03,330.6 270.53,332.2 271.03,332.5 271.53,332.5 272.03,334.0 272.53,334.3 273.03,335.2 273.53,335.5 274.03,336.1 274.53,337.6 275.03,337.0 275.53,337.5 276.03,335.8 276.53,333.6 277.03,336.6 277.53,338.8 278.03,338.3 278.53,338.1 279.03,337.5 279.53,340.3 280.03,339.4 280.53,340.5 281.03,342.0 281.53,341.9 282.03,344.2 282.53,342.0 283.03,343.2 283.53,343.3 284.03,342.0 284.53,342.9 285.03,342.6 285.53,342.2 286.03,344.0 286.53,343.3 287.03,346.4 287.53,344.1 288.03,343.5 288.53,343.9 289.03,342.9 289.53,343.2 290.03,342.2 290.53,340.2 291.03,337.5 291.53,337.2 292.03,339.6 292.53,337.6 293.03,335.8 293.53,334.0 294.03,333.9 294.53,334.2 295.03,331.8 295.53,331.8 296.03,331.4 296.53,333.9 297.03,331.1 297.53,333.2 298.03,331.2 298.53,334.7 299.03,331.5 299.53,330.9 300.03,332.9 300.53,332.9 301.03,333.2 301.53,330.9 302.03,333.6 302.53,335.2 303.03,333.5 303.53,333.0 304.03,332.4 304.53,335.4 305.03,335.0 305.53,334.0 306.03,331.7 306.53,334.6 307.03,333.7 307.53,331.9 308.03,333.1 308.53,329.8 309.03,332.0 309.53,330.2 310.03,333.3 310.53,331.9 311.03,333.9 311.53,332.4 312.03,333.8 312.53,335.6 313.03,333.8 313.53,335.3 314.03,334.9 314.53,337.5 315.03,336.4 315.53,336.7 316.03,337.3 316.53,339.4 317.03,337.3 317.53,338.4 318.03,338.5 318.53,338.6 319.03,338.5 319.53,339.6 320.03,340.5 320.53,338.8 321.03,339.2 321.53,336.1 322.03,335.7 322.53,337.2 323.03,331.9 323.53,330.4 324.03,328.2 324.53,327.9 325.03,324.2 325.53,321.0 326.03,319.8 326.53,321.3 327.03,320.9 327.53,323.9 328.03,323.9 328.53,327.2 329.03,327.1 329.53,328.3 330.03,325.0 330.53,321.9 331.03,320.9 331.53,323.8 332.03,321.6 332.53,321.5 333.03,322.5 333.53,324.6 334.03,328.6 334.53,331.9 335.03,333.9 335.53,336.0 336.03,338.8 336.53,338.7 337.03,338.7 337.53,334.8 338.03,333.9 338.53,329.5 339.03,326.5 339.53,324.4 340.03,321.6 340.53,316.2 341.03,315.8 341.53,316.6 342.03,316.9 342.53,320.3 343.03,319.8 343.53,318.7 344.03,324.3 344.53,322.6 345.03,324.0 345.53,326.9 346.03,326.3 346.53,331.9 347.03,331.4 347.53,333.0 348.03,333.4 348.53,338.2 349.03,337.6 349.53,334.4 350.03,335.3 350.53,330.6 351.03,330.2 351.53,330.9 352.03,331.4 352.53,330.3 353.03,333.8 353.53,334.6 354.03,331.8 354.53,332.5 355.03,331.0 355.53,330.7 356.03,332.2 356.53,331.0 357.03,330.5 357.53,330.7 358.03,329.1 358.53,331.9 359.03,330.0 359.53,334.3 360.03,334.5 360.53,336.1 361.03,340.5 361.53,341.3 362.03,342.1 362.53,344.0 363.03,347.3 363.53,349.5 364.03,348.9 364.53,348.0 365.03,347.4 365.53,349.2 366.03,351.4 366.53,353.4 367.03,354.1 367.53,355.2 368.03,352.1 368.53,351.0 369.03,351.3 369.53,351.1 370.03,349.9 370.53,350.9 371.03,348.1 371.53,350.8 372.03,351.7 372.53,351.3 373.03,348.9 373.53,350.3 374.03,348.1 374.53,348.8 375.03,346.9 375.53,346.5 376.03,346.3 376.53,343.0 377.03,343.6 377.53,345.5 378.03,339.8 378.53,342.3 379.03,343.2 379.53,342.4 380.03,341.9 380.53,342.9 381.03,341.6 381.53,338.8 382.03,339.7 382.53,340.9 383.03,342.0 383.53,341.7 384.03,342.4 384.53,344.9 385.03,340.1 385.53,344.3 386.03,345.2 386.53,345.2 387.03,344.8 387.53,344.9 388.03,345.2 388.53,345.1 389.03,344.0 389.53,345.5 390.03,343.9 390.53,344.2 391.03,343.3 391.53,341.6 392.03,342.9 392.53,341.8 393.03,339.7 393.53,340.3 394.03,338.9 394.53,342.1 395.03,341.6 395.53,343.3 396.03,340.5 396.53,341.5 397.03,339.5 397.53,339.1 398.03,339.8 398.53,340.4 399.03,341.0 399.53,339.7 400.03,341.5 400.53,341.9 401.03,340.0 401.53,340.7 402.03,340.3 402.53,343.6 403.03,341.6 403.53,343.1 404.03,343.6 404.53,342.4 405.03,342.0 405.53,343.0 406.03,341.9 406.53,341.0 407.03,341.2 407.53,342.8 408.03,343.0 408.53,344.9 409.03,341.6 409.53,344.2 410.03,343.1 410.53,345.9 411.03,346.2 411.53,345.8 412.03,347.6 412.53,346.1 413.03,345.8 413.53,345.1 414.03,345.4 414.53,346.4 415.03,347.2 415.53,348.1 416.03,346.5 416.53,345.9 417.03,346.6 417.53,346.8 418.03,347.1 418.53,347.5 419.03,347.3 419.53,348.2 420.03,347.8 420.53,348.2 421.03,346.8 421.53,348.3 422.03,349.1 422.53,349.9 423.03,349.3 423.53,349.0 424.03,349.3 424.53,350.1 425.03,351.3 425.53,352.2 426.03,351.1 426.53,353.8 427.03,352.2 427.53,353.1 428.03,353.5 428.53,356.3 429.03,359.2 429.53,358.6 430.03,359.8 430.53,359.8 431.03,359.5 431.53,359.0 432.03,361.3 432.53,357.8 433.03,357.8 433.53,356.8 434.03,357.6 434.53,356.5 435.03,357.2 435.53,355.5 436.03,358.6 436.53,357.2 437.03,354.8 437.53,357.0 438.03,356.1 438.53,355.3 439.03,356.8 439.53,356.1 440.03,357.2 440.53,356.1 441.03,357.4 441.53,357.0 442.03,357.5 442.53,357.6 443.03,357.4 443.53,357.6 444.03,358.8 444.53,359.4 445.03,358.3 445.53,360.8 446.03,360.8 446.53,357.8 447.03,359.6 447.53,358.8 448.03,359.3 448.53,358.6 449.03,361.2 449.53,359.5 450.03,360.2 450.53,359.8 451.03,362.4 451.53,362.2 452.03,359.6 452.53,360.0 453.03,360.8 453.53,360.2 454.03,360.2 454.53,359.4 455.03,360.6 455.53,359.5 456.03,361.2 456.53,363.1 457.03,360.8 457.53,362.3 458.03,361.3 458.53,360.1 459.03,360.2 459.53,359.6 460.03,360.9 460.53,362.0 461.03,362.7 461.53,361.9 462.03,361.1 462.53,362.3 463.03,365.2 463.53,365.2 464.03,365.7 464.53,364.7 465.03,366.8 465.53,369.0 466.03,368.8 466.53,371.7 467.03,370.9 467.53,370.8 468.03,371.5 468.53,372.5 469.03,374.0 469.53,373.3 470.03,372.6 470.53,374.3 471.03,375.5 471.53,377.1 472.03,375.5 472.53,377.8 473.03,376.8 473.53,375.5 474.03,373.4 474.53,372.1 475.03,371.3 475.53,372.5 476.03,371.7 476.53,371.9 477.03,372.1 477.53,369.9 478.03,368.9 478.53,370.0 479.03,366.7 479.53,366.3 480.03,366.0 480.53,365.7 481.03,365.8 481.53,364.7 482.03,366.1 482.53,363.7 483.03,363.4 483.53,362.3 484.03,362.1 484.53,363.7 485.03,363.8 485.53,362.7 486.03,363.6 486.53,363.9 487.03,363.1 487.53,363.7 488.03,364.5 488.53,366.5 489.03,364.6 489.53,365.0 490.03,365.2 490.53,365.9 491.03,365.3 491.53,365.8 492.03,364.0 492.53,364.7 493.03,363.5 493.53,365.4 494.03,368.2 494.53,367.1 495.03,367.0 495.53,367.4 496.03,367.6 496.53,366.6 497.03,367.2 497.53,368.1 498.03,368.8 498.53,367.9 499.03,368.4 499.53,368.0 500.03,367.3 500.53,367.8 501.03,367.9 501.53,369.7 502.03,370.8 502.53,370.6 503.03,370.1 503.53,369.9 504.03,369.2 504.53,369.9 505.03,372.0 505.53,372.0 506.03,371.2 506.53,370.6 507.03,370.7 507.53,371.5 508.03,371.5 508.53,372.1 509.03,371.5 509.53,372.3 510.03,372.4 510.53,373.6 511.03,371.8 511.53,373.7 512.03,372.8 512.53,372.3 513.03,372.7 513.53,372.5 514.03,371.9 514.53,372.1 515.03,370.9 515.53,369.5 516.03,371.0 516.53,370.8 517.03,372.2 517.53,371.4 518.03,369.0 518.53,371.5 519.03,370.2 519.53,370.8 520.03,372.2 520.53,371.2 521.03,368.7 521.53,368.9 522.03,367.2 522.53,368.7 523.03,368.7 523.53,366.9 524.03,367.7 524.53,368.0 525.03,367.7 525.53,366.5 526.03,366.5 526.53,366.4 527.03,366.5 527.53,368.3 528.03,368.6 528.53,369.9 529.03,369.2 529.53,368.5 530.03,367.3 530.53,369.8 531.03,369.1 531.53,369.0 532.03,368.3 532.53,368.4 533.03,370.2 533.53,369.4 534.03,370.9 534.53,371.2 535.03,370.0 535.53,368.4 536.03,369.6 536.53,370.5 537.03,368.4 537.53,367.5 538.03,369.7 538.53,369.4 539.03,368.8 539.53,370.5 540.03,369.6 540.53,370.1 541.03,369.4 541.53,369.0 542.03,369.8 542.53,368.9 543.03,367.9 543.53,368.9 544.03,370.7 544.53,370.9 545.03,371.9 545.53,371.0 546.03,371.4 546.53,370.2 547.03,369.2 547.53,369.7 548.03,368.3 548.53,369.5 549.03,368.5 549.53,368.9 550.03,368.2 550.53,368.8 551.03,370.1 551.53,369.4 552.03,368.9 552.53,369.8 553.03,370.3 553.53,369.3 554.03,368.1 554.53,367.4 555.03,367.3 555.53,369.3 556.03,368.4 556.53,368.4 557.03,368.7 557.53,367.8 558.03,367.5 558.53,366.3 559.03,365.1 559.53,366.9 560.03,366.7 560.53,367.6 561.03,366.5 561.53,367.4 562.03,369.8 562.53,368.0 563.03,368.7 563.53,370.2 564.03,369.4 564.53,369.8 565.03,368.1 565.53,370.7 566.03,370.4 566.53,372.1 567.03,371.5 567.53,371.4 568.03,372.3 568.53,372.2 569.03,372.2 569.53,374.6 570.03,375.1 570.53,375.0 571.03,376.1 571.53,376.8 572.03,377.3 572.53,378.0 573.03,379.3 573.53,380.9 574.03,382.4 574.53,383.6 575.03,384.2 575.53,384.0 576.03,383.4 576.53,381.4 577.03,380.9 577.53,381.4 578.03,381.0 578.53,380.6 579.03,380.7 579.53,380.3 580.03,381.4 580.53,380.3 581.03,378.8 581.53,378.7 582.03,379.7 582.53,379.6 583.03,379.3 583.53,378.8 584.03,379.8 584.53,379.6 585.03,379.9 585.53,381.4 586.03,382.2 586.53,384.3 587.03,385.0 587.53,385.3 588.03,385.2 588.53,386.3 589.03,386.4 589.53,385.7 590.03,384.1 590.53,384.2 591.03,384.7 591.53,384.5 592.03,382.4 592.53,383.1 593.03,383.1 593.53,384.5 594.03,385.0 594.53,384.0 595.03,384.9 595.53,382.4 596.03,383.2 596.53,380.7 597.03,379.7 597.53,380.6 598.03,378.3 598.53,377.6 599.03,378.8 599.53,377.7 600.03,378.9 600.53,378.7 601.03,382.0 601.53,383.0 602.03,382.7 602.53,383.1 603.03,382.5 603.53,382.6 604.03,382.0 604.53,383.5 605.03,384.7 605.53,384.8 606.03,385.1 606.53,385.2 607.03,384.1 607.53,383.5 608.03,384.9 608.53,384.8 609.03,385.4 609.53,384.5 610.03,383.6 610.53,384.2 611.03,383.4 611.53,382.2 612.03,382.6 612.53,382.5 613.03,382.3 613.53,382.7 614.03,383.9 614.53,385.2 615.03,384.6 615.53,382.4 616.03,382.8 616.53,381.5 617.03,381.2 617.53,380.3 618.03,380.5 618.53,379.4 619.03,381.9 619.53,380.3 620.03,381.1 620.53,380.3 621.03,380.8 621.53,379.8 622.03,380.2 622.53,381.3 623.03,381.1 623.53,379.0 624.03,380.7 624.53,379.2 625.03,380.1 625.53,380.3 626.03,379.4 626.53,379.3 627.03,379.3 627.53,379.7 628.03,380.1 628.53,380.3 629.03,379.4 629.53,380.5 630.03,378.6 630.53,380.7 631.03,379.9 631.53,380.8 632.03,380.6 632.53,380.9 633.03,380.4 633.53,381.5 634.03,383.2 634.53,382.3 635.03,382.0 635.53,381.9 636.03,382.3 636.53,381.5 637.03,381.4 637.53,381.5 638.03,382.6 638.53,382.6 639.03,381.1 639.53,381.3 640.03,381.9 640.53,382.9 641.03,383.4 641.53,382.8 642.03,384.7 642.53,383.5 643.03,384.6 643.53,385.1 644.03,385.5 644.53,384.7 645.03,385.0 645.53,383.5 646.03,382.9 646.53,383.5 647.03,384.6 647.53,384.9 648.03,384.1 648.53,384.9 649.03,384.9 649.53,385.6 650.03,383.6 650.53,383.9 651.03,384.0 651.53,384.2 652.03,386.4 652.53,385.2 653.03,385.2 653.53,385.6 654.03,386.7 654.53,386.1 655.03,386.9 655.53,387.0 656.03,386.4 656.53,385.3 657.03,386.2 657.53,386.4 658.03,388.7 658.53,387.5 659.03,386.9 659.53,387.7 660.03,387.5 660.53,386.7 661.03,387.8 661.53,387.7 662.03,387.0 662.53,385.9 663.03,385.4 663.53,384.3 664.03,385.9 664.53,386.2 665.03,385.3 665.53,385.8 666.03,388.3 666.53,385.5 667.03,384.4 667.53,385.7 668.03,385.2 668.53,384.9 669.03,385.6 669.53,385.3 670.03,386.0 670.53,385.8 671.03,386.2 671.53,385.5 672.03,383.5 672.53,385.6 673.03,383.7 673.53,385.3 674.03,384.9 674.53,383.4 675.03,383.9 675.53,384.4 676.03,382.9 676.53,383.2 677.03,382.4 677.53,381.8 678.03,381.7 678.53,382.9 679.03,383.0 679.53,382.8 680.03,383.0 680.53,383.4 681.03,383.5 681.53,383.5 682.03,382.0 682.53,383.7 683.03,382.7 683.53,381.1 684.03,383.2 684.53,382.1 685.03,382.5 685.53,382.6 686.03,382.1 686.53,382.8 687.03,382.2 687.53,382.0 688.03,381.3 688.53,381.5 689.03,380.6 689.53,380.9 690.03,381.7 690.53,381.3 691.03,380.6 691.53,378.9 692.03,380.4 692.53,380.5 693.03,381.3 693.53,378.0 694.03,379.4 694.53,379.6 695.03,381.0 695.53,379.7 696.03,380.2 696.53,382.5 697.03,382.0 697.53,379.7 698.03,380.9 698.53,382.3 699.03,381.2 699.53,382.0 700.03,381.9 700.53,380.9 701.03,380.7 701.53,381.2 702.03,380.6 702.53,378.8 703.03,380.9 703.53,379.9 704.03,369.0 704.53,369.7 705.03,369.3 705.53,371.3 706.03,371.7 706.53,370.2 707.03,371.4 707.53,371.6 708.03,371.7 708.53,371.6 709.03,371.8 709.53,370.2 710.03,372.4 710.53,371.9 711.03,371.7 711.53,370.9 712.03,370.8 712.53,370.3 713.03,369.4 713.53,368.7 714.03,369.8 714.53,370.7 715.03,370.1 715.53,371.0 716.03,368.3 716.53,368.6"/>
<line x1="112.5" y1="47" x2="112.5" y2="400.5" stroke="#000" stroke-width="1.2"/>
<line x1="112" y1="400" x2="763" y2="400" stroke="#000" stroke-width="1.2"/>
<line x1="112" y1="400.5" x2="118" y2="400.5" stroke="#000" stroke-width="1.2"/>
<text x="106.6" y="405.1" text-anchor="end" textLength="24" lengthAdjust="spacingAndGlyphs" class="ax">0.05</text>
<line x1="112" y1="341.5" x2="118" y2="341.5" stroke="#000" stroke-width="1.2"/>
<text x="106.6" y="346.1" text-anchor="end" textLength="24" lengthAdjust="spacingAndGlyphs" class="ax">0.10</text>
<line x1="112" y1="282.5" x2="118" y2="282.5" stroke="#000" stroke-width="1.2"/>
<text x="106.6" y="287.1" text-anchor="end" textLength="24" lengthAdjust="spacingAndGlyphs" class="ax">0.15</text>
<line x1="112" y1="224.5" x2="118" y2="224.5" stroke="#000" stroke-width="1.2"/>
<text x="106.6" y="229.1" text-anchor="end" textLength="24" lengthAdjust="spacingAndGlyphs" class="ax">0.20</text>
<line x1="112" y1="165.5" x2="118" y2="165.5" stroke="#000" stroke-width="1.2"/>
<text x="106.6" y="170.1" text-anchor="end" textLength="24" lengthAdjust="spacingAndGlyphs" class="ax">0.25</text>
<line x1="112" y1="106.5" x2="118" y2="106.5" stroke="#000" stroke-width="1.2"/>
<text x="106.6" y="111.1" text-anchor="end" textLength="24" lengthAdjust="spacingAndGlyphs" class="ax">0.30</text>
<line x1="112" y1="47.5" x2="118" y2="47.5" stroke="#000" stroke-width="1.2"/>
<text x="106.6" y="52.1" text-anchor="end" textLength="24" lengthAdjust="spacingAndGlyphs" class="ax">0.35</text>
<line x1="112.5" y1="395" x2="112.5" y2="400" stroke="#000" stroke-width="1.2"/>
<text x="112.5" y="417" text-anchor="middle" textLength="27" lengthAdjust="spacingAndGlyphs" class="ax">2006</text>
<line x1="193.5" y1="395" x2="193.5" y2="400" stroke="#000" stroke-width="1.2"/>
<text x="193.8" y="417" text-anchor="middle" textLength="27" lengthAdjust="spacingAndGlyphs" class="ax">2007</text>
<line x1="274.5" y1="395" x2="274.5" y2="400" stroke="#000" stroke-width="1.2"/>
<text x="275.0" y="417" text-anchor="middle" textLength="27" lengthAdjust="spacingAndGlyphs" class="ax">2008</text>
<line x1="356.5" y1="395" x2="356.5" y2="400" stroke="#000" stroke-width="1.2"/>
<text x="356.2" y="417" text-anchor="middle" textLength="27" lengthAdjust="spacingAndGlyphs" class="ax">2009</text>
<line x1="437.5" y1="395" x2="437.5" y2="400" stroke="#000" stroke-width="1.2"/>
<text x="437.5" y="417" text-anchor="middle" textLength="27" lengthAdjust="spacingAndGlyphs" class="ax">2010</text>
<line x1="518.5" y1="395" x2="518.5" y2="400" stroke="#000" stroke-width="1.2"/>
<text x="518.8" y="417" text-anchor="middle" textLength="27" lengthAdjust="spacingAndGlyphs" class="ax">2011</text>
<line x1="600.5" y1="395" x2="600.5" y2="400" stroke="#000" stroke-width="1.2"/>
<text x="600.0" y="417" text-anchor="middle" textLength="27" lengthAdjust="spacingAndGlyphs" class="ax">2012</text>
<line x1="681.5" y1="395" x2="681.5" y2="400" stroke="#000" stroke-width="1.2"/>
<text x="681.2" y="417" text-anchor="middle" textLength="27" lengthAdjust="spacingAndGlyphs" class="ax">2013</text>
<line x1="762.5" y1="395" x2="762.5" y2="400" stroke="#000" stroke-width="1.2"/>
<text x="762.5" y="417" text-anchor="middle" textLength="27" lengthAdjust="spacingAndGlyphs" class="ax">2014</text>
<rect x="586.3" y="336" width="116.5" height="59.8" fill="none" stroke="#bb33bb" stroke-width="2.4"/>
<path d="M294,51.8 L412.5,51.8 A16,9 0 0 1 428.5,60.8 L428.5,92.8 A16,9 0 0 1 412.5,101.8 L340,101.8 L290.4,174 L303,101.8 L294,101.8 A16,9 0 0 1 278,92.8 L278,60.8 A16,9 0 0 1 294,51.8 Z" fill="#fff" stroke="#c850cc" stroke-width="1.35"/>
<path d="M531.1,225.9 L621.4,225.9 A21,15 0 0 1 642.4,240.9 L642.4,290.3 A21,15 0 0 1 621.4,305.3 L621,305.3 L588.3,333 L587,305.3 L531.1,305.3 A21,15 0 0 1 510.1,290.3 L510.1,240.9 A21,15 0 0 1 531.1,225.9 Z" fill="#fff" stroke="#c850cc" stroke-width="1.35"/>
<path d="M648,149.8 L722.7,149.8 A14,10 0 0 1 736.7,159.8 L736.7,197.8 A14,10 0 0 1 722.7,207.8 L719.3,207.8 L709,318.5 L693.7,207.8 L648,207.8 A14,10 0 0 1 634,197.8 L634,159.8 A14,10 0 0 1 648,149.8 Z" fill="#fff" stroke="#c850cc" stroke-width="1.35"/>
<text x="354" y="67.4" text-anchor="middle" class="co" textLength="129" lengthAdjust="spacingAndGlyphs">Начало СЭ по версии</text>
<text x="354" y="84.7" text-anchor="middle" class="co" textLength="105" lengthAdjust="spacingAndGlyphs">NipponMarketBlog</text>
<text x="576" y="243.7" text-anchor="middle" class="co" textLength="90" lengthAdjust="spacingAndGlyphs">декабрь 2011 -</text>
<text x="576.9" y="260" text-anchor="middle" class="co" textLength="40.5" lengthAdjust="spacingAndGlyphs">начало</text>
<text x="576" y="276.6" text-anchor="middle" class="co" textLength="90" lengthAdjust="spacingAndGlyphs">Согласованной</text>
<text x="576" y="293" text-anchor="middle" class="co" textLength="52" lengthAdjust="spacingAndGlyphs">Эмиссии</text>
<text x="685.7" y="165.7" text-anchor="middle" class="co" textLength="88" lengthAdjust="spacingAndGlyphs">Формирование</text>
<text x="685.7" y="183" text-anchor="middle" class="co" textLength="35.5" lengthAdjust="spacingAndGlyphs">новых</text>
<text x="685.7" y="199.6" text-anchor="middle" class="co" textLength="61" lengthAdjust="spacingAndGlyphs">коридоров</text>
<text x="45.2" y="10.7" class="ti" textLength="154" lengthAdjust="spacingAndGlyphs">100/GOLDPMGBD228NLBM,</text>
<text x="203.3" y="10.7" class="ti" textLength="154" lengthAdjust="spacingAndGlyphs">100/GOLDPMGBD230NLBM,</text>
<text x="361.1" y="10.7" class="ti" textLength="154" lengthAdjust="spacingAndGlyphs">100/GOLDPMGBD229NLBM,</text>
<text x="519.1" y="10.7" class="ti" textLength="234.5" lengthAdjust="spacingAndGlyphs">10000/(DEXJPUS*GOLDPMGBD228NLBM),</text>
<text x="289" y="25" class="ti" textLength="222.5" lengthAdjust="spacingAndGlyphs">100/(DEXSZUS*GOLDPMGBD228NLBM)</text>
<rect x="602.5" y="22.5" width="186" height="18" fill="#fff" stroke="#000" stroke-width="1.3"/>
<text x="607" y="36" class="wm" textLength="178" lengthAdjust="spacingAndGlyphs">kubkaramazoff.livejournal.com</text>
<text transform="translate(14.8,416) rotate(-90)" x="0" y="0" class="yl" textLength="323" lengthAdjust="spacingAndGlyphs">(100/U.S. $ per Troy Once) , (100/Euros per Troy Once) ,</text>
<text transform="translate(29.8,416) rotate(-90)" x="0" y="0" class="yl" textLength="364.5" lengthAdjust="spacingAndGlyphs">(100/British Pounds per Troy Once) , (10000/(Japanese Yen to 1</text>
<text transform="translate(44.8,416) rotate(-90)" x="0" y="0" class="yl" textLength="315.5" lengthAdjust="spacingAndGlyphs">U.S. $*U.S. $ per Troy Once)) , (100/(Swiss Francs to 1</text>
<text transform="translate(59.8,416) rotate(-90)" x="0" y="0" class="yl" textLength="164.8" lengthAdjust="spacingAndGlyphs">U.S. $*U.S. $ per Troy Once))</text>
<rect x="332.5" y="427.5" width="458.5" height="44" fill="#fff" stroke="#000" stroke-width="1.2"/>
<rect x="341" y="433.0" width="10" height="2" fill="#127a12"/>
<text x="361.8" y="437.5" class="lg" textLength="127" lengthAdjust="spacing">100/GOLDPMGBD228NLBM</text>
<rect x="341" y="444.90000000000003" width="10" height="2" fill="#700000"/>
<text x="361.8" y="449.40000000000003" class="lg" textLength="127" lengthAdjust="spacing">100/GOLDPMGBD229NLBM</text>
<rect x="341" y="458.0" width="10" height="2" fill="#5210bf"/>
<text x="361.8" y="462.5" class="lg" textLength="188" lengthAdjust="spacing">100/(DEXSZUS*GOLDPMGBD228NLBM)</text>
<rect x="564" y="433.0" width="10" height="2" fill="#1f62b8"/>
<text x="584.8" y="437.5" class="lg" textLength="127" lengthAdjust="spacing">100/GOLDPMGBD230NLBM</text>
<rect x="564" y="444.90000000000003" width="10" height="2" fill="#d6b02a"/>
<text x="584.8" y="449.40000000000003" class="lg" textLength="199" lengthAdjust="spacing">10000/(DEXJPUS*GOLDPMGBD228NLBM)</text>
<text x="173.3" y="438.6" text-anchor="middle" class="ft" textLength="125.5" lengthAdjust="spacingAndGlyphs">Shaded areas indicate</text>
<text x="172.8" y="452.7" text-anchor="middle" class="ft" textLength="82.3" lengthAdjust="spacingAndGlyphs">US recessions.</text>
<text x="173.9" y="466.4" text-anchor="middle" class="ft" textLength="158.7" lengthAdjust="spacingAndGlyphs">2013 research.stlouisfed.org</text>
<rect x="1.8" y="450.7" width="85" height="21.1" fill="#f6f8f6"/>
<text x="3.6" y="469.2" class="fred" textLength="61.5" lengthAdjust="spacingAndGlyphs">FRED</text>
<polygon points="69,465.5 71.5,464.4 74.2,466 78,463.9 80.8,465.2 84,459 84,469 69,469" fill="#dfe9d6"/>
<polyline points="68.5,453 68.5,469.2 84.5,469.2" fill="none" stroke="#c9cbc9" stroke-width="0.8"/>
<polyline points="69.2,462 70.7,460.9 73.4,463.6 77.5,458.1 79.4,459.5 83.5,454" fill="none" stroke="#6f7f9a" stroke-width="1"/>
<polyline points="69,465.5 71.5,464.4 74.2,466 78,463.9 80.8,465.2 84,459" fill="none" stroke="#7f9f72" stroke-width="1"/>
</svg>
</body></html>
